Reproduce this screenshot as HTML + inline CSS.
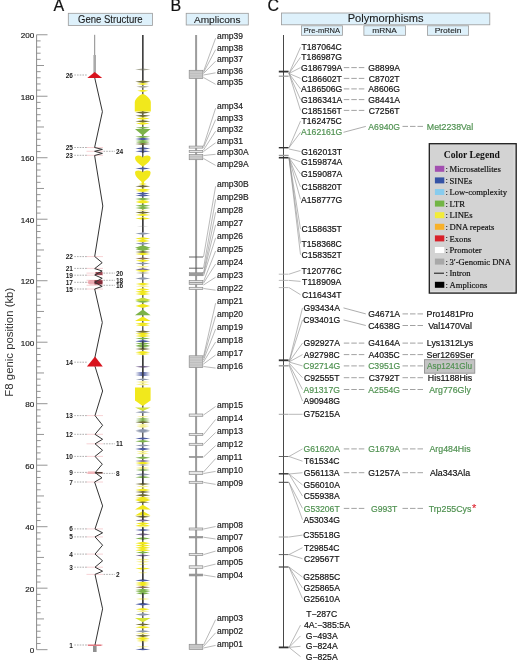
<!DOCTYPE html>
<html><head><meta charset="utf-8"><title>F8 gene structure, amplicons and polymorphisms</title><style>html,body{margin:0;padding:0;background:#fff;}svg{display:block;filter:blur(0.35px)}</style></head><body>
<svg width="520" height="662" viewBox="0 0 520 662">
<rect width="520" height="662" fill="#fff"/>
<text x="53.60" y="11.20" font-size="16" text-anchor="start" fill="#111" font-weight="normal" font-family='"Liberation Sans", sans-serif' stroke="#111" stroke-width="0.2">A</text>
<text x="170.40" y="11.20" font-size="16" text-anchor="start" fill="#111" font-weight="normal" font-family='"Liberation Sans", sans-serif' stroke="#111" stroke-width="0.2">B</text>
<text x="267.60" y="11.10" font-size="16" text-anchor="start" fill="#111" font-weight="normal" font-family='"Liberation Sans", sans-serif' stroke="#111" stroke-width="0.2">C</text>
<rect x="68.3" y="13.3" width="84.10000000000001" height="12.099999999999998" fill="#def1fb" stroke="#9a9a9a" stroke-width="0.8"/>
<text x="110.35" y="22.70" font-size="10.0" text-anchor="middle" fill="#1a1a1a" font-weight="normal" font-family='"Liberation Sans", sans-serif' textLength="64.6" lengthAdjust="spacingAndGlyphs" stroke="#222" stroke-width="0.1">Gene Structure</text>
<rect x="186.2" y="13.3" width="62.10000000000002" height="11.7" fill="#def1fb" stroke="#9a9a9a" stroke-width="0.8"/>
<text x="217.25" y="22.60" font-size="9.9" text-anchor="middle" fill="#1a1a1a" font-weight="normal" font-family='"Liberation Sans", sans-serif' textLength="46.6" lengthAdjust="spacingAndGlyphs" stroke="#222" stroke-width="0.1">Amplicons</text>
<rect x="281.4" y="13.0" width="208.40000000000003" height="11.8" fill="#def1fb" stroke="#9a9a9a" stroke-width="0.8"/>
<text x="385.60" y="22.40" font-size="10.2" text-anchor="middle" fill="#1a1a1a" font-weight="normal" font-family='"Liberation Sans", sans-serif' textLength="75.8" lengthAdjust="spacingAndGlyphs" stroke="#222" stroke-width="0.1">Polymorphisms</text>
<rect x="301.4" y="25.8" width="41.0" height="9.499999999999996" fill="#def1fb" stroke="#9a9a9a" stroke-width="0.8"/>
<text x="321.90" y="33.40" font-size="8.0" text-anchor="middle" fill="#1a1a1a" font-weight="normal" font-family='"Liberation Sans", sans-serif' textLength="36.4" lengthAdjust="spacingAndGlyphs" stroke="#222" stroke-width="0.1">Pre-mRNA</text>
<rect x="363.9" y="25.8" width="41.5" height="9.499999999999996" fill="#def1fb" stroke="#9a9a9a" stroke-width="0.8"/>
<text x="384.65" y="33.40" font-size="8.0" text-anchor="middle" fill="#1a1a1a" font-weight="normal" font-family='"Liberation Sans", sans-serif' textLength="24.6" lengthAdjust="spacingAndGlyphs" stroke="#222" stroke-width="0.1">mRNA</text>
<rect x="427.5" y="25.8" width="41.10000000000002" height="9.499999999999996" fill="#def1fb" stroke="#9a9a9a" stroke-width="0.8"/>
<text x="448.05" y="33.40" font-size="8.0" text-anchor="middle" fill="#1a1a1a" font-weight="normal" font-family='"Liberation Sans", sans-serif' textLength="26.8" lengthAdjust="spacingAndGlyphs" stroke="#222" stroke-width="0.1">Protein</text>
<line x1="36.6" y1="34.75" x2="36.6" y2="649.6700000000001" stroke="#8a8a8a" stroke-width="1"/>
<line x1="36.6" y1="649.67" x2="47.5" y2="649.67" stroke="#8a8a8a" stroke-width="0.9"/>
<text x="34.30" y="653.17" font-size="8.1" text-anchor="end" fill="#222" font-weight="normal" font-family='"Liberation Sans", sans-serif' stroke="#222" stroke-width="0.18" >0</text>
<line x1="36.6" y1="643.52" x2="40.6" y2="643.52" stroke="#8a8a8a" stroke-width="0.9"/>
<line x1="36.6" y1="637.37" x2="40.6" y2="637.37" stroke="#8a8a8a" stroke-width="0.9"/>
<line x1="36.6" y1="631.22" x2="40.6" y2="631.22" stroke="#8a8a8a" stroke-width="0.9"/>
<line x1="36.6" y1="625.07" x2="40.6" y2="625.07" stroke="#8a8a8a" stroke-width="0.9"/>
<line x1="36.6" y1="618.92" x2="44.0" y2="618.92" stroke="#8a8a8a" stroke-width="0.9"/>
<line x1="36.6" y1="612.77" x2="40.6" y2="612.77" stroke="#8a8a8a" stroke-width="0.9"/>
<line x1="36.6" y1="606.63" x2="40.6" y2="606.63" stroke="#8a8a8a" stroke-width="0.9"/>
<line x1="36.6" y1="600.48" x2="40.6" y2="600.48" stroke="#8a8a8a" stroke-width="0.9"/>
<line x1="36.6" y1="594.33" x2="40.6" y2="594.33" stroke="#8a8a8a" stroke-width="0.9"/>
<line x1="36.6" y1="588.18" x2="47.5" y2="588.18" stroke="#8a8a8a" stroke-width="0.9"/>
<text x="34.30" y="591.68" font-size="8.1" text-anchor="end" fill="#222" font-weight="normal" font-family='"Liberation Sans", sans-serif' stroke="#222" stroke-width="0.18" >20</text>
<line x1="36.6" y1="582.03" x2="40.6" y2="582.03" stroke="#8a8a8a" stroke-width="0.9"/>
<line x1="36.6" y1="575.88" x2="40.6" y2="575.88" stroke="#8a8a8a" stroke-width="0.9"/>
<line x1="36.6" y1="569.73" x2="40.6" y2="569.73" stroke="#8a8a8a" stroke-width="0.9"/>
<line x1="36.6" y1="563.58" x2="40.6" y2="563.58" stroke="#8a8a8a" stroke-width="0.9"/>
<line x1="36.6" y1="557.43" x2="44.0" y2="557.43" stroke="#8a8a8a" stroke-width="0.9"/>
<line x1="36.6" y1="551.28" x2="40.6" y2="551.28" stroke="#8a8a8a" stroke-width="0.9"/>
<line x1="36.6" y1="545.13" x2="40.6" y2="545.13" stroke="#8a8a8a" stroke-width="0.9"/>
<line x1="36.6" y1="538.98" x2="40.6" y2="538.98" stroke="#8a8a8a" stroke-width="0.9"/>
<line x1="36.6" y1="532.84" x2="40.6" y2="532.84" stroke="#8a8a8a" stroke-width="0.9"/>
<line x1="36.6" y1="526.69" x2="47.5" y2="526.69" stroke="#8a8a8a" stroke-width="0.9"/>
<text x="34.30" y="530.19" font-size="8.1" text-anchor="end" fill="#222" font-weight="normal" font-family='"Liberation Sans", sans-serif' stroke="#222" stroke-width="0.18" >40</text>
<line x1="36.6" y1="520.54" x2="40.6" y2="520.54" stroke="#8a8a8a" stroke-width="0.9"/>
<line x1="36.6" y1="514.39" x2="40.6" y2="514.39" stroke="#8a8a8a" stroke-width="0.9"/>
<line x1="36.6" y1="508.24" x2="40.6" y2="508.24" stroke="#8a8a8a" stroke-width="0.9"/>
<line x1="36.6" y1="502.09" x2="40.6" y2="502.09" stroke="#8a8a8a" stroke-width="0.9"/>
<line x1="36.6" y1="495.94" x2="44.0" y2="495.94" stroke="#8a8a8a" stroke-width="0.9"/>
<line x1="36.6" y1="489.79" x2="40.6" y2="489.79" stroke="#8a8a8a" stroke-width="0.9"/>
<line x1="36.6" y1="483.64" x2="40.6" y2="483.64" stroke="#8a8a8a" stroke-width="0.9"/>
<line x1="36.6" y1="477.49" x2="40.6" y2="477.49" stroke="#8a8a8a" stroke-width="0.9"/>
<line x1="36.6" y1="471.34" x2="40.6" y2="471.34" stroke="#8a8a8a" stroke-width="0.9"/>
<line x1="36.6" y1="465.19" x2="47.5" y2="465.19" stroke="#8a8a8a" stroke-width="0.9"/>
<text x="34.30" y="468.69" font-size="8.1" text-anchor="end" fill="#222" font-weight="normal" font-family='"Liberation Sans", sans-serif' stroke="#222" stroke-width="0.18" >60</text>
<line x1="36.6" y1="459.04" x2="40.6" y2="459.04" stroke="#8a8a8a" stroke-width="0.9"/>
<line x1="36.6" y1="452.90" x2="40.6" y2="452.90" stroke="#8a8a8a" stroke-width="0.9"/>
<line x1="36.6" y1="446.75" x2="40.6" y2="446.75" stroke="#8a8a8a" stroke-width="0.9"/>
<line x1="36.6" y1="440.60" x2="40.6" y2="440.60" stroke="#8a8a8a" stroke-width="0.9"/>
<line x1="36.6" y1="434.45" x2="44.0" y2="434.45" stroke="#8a8a8a" stroke-width="0.9"/>
<line x1="36.6" y1="428.30" x2="40.6" y2="428.30" stroke="#8a8a8a" stroke-width="0.9"/>
<line x1="36.6" y1="422.15" x2="40.6" y2="422.15" stroke="#8a8a8a" stroke-width="0.9"/>
<line x1="36.6" y1="416.00" x2="40.6" y2="416.00" stroke="#8a8a8a" stroke-width="0.9"/>
<line x1="36.6" y1="409.85" x2="40.6" y2="409.85" stroke="#8a8a8a" stroke-width="0.9"/>
<line x1="36.6" y1="403.70" x2="47.5" y2="403.70" stroke="#8a8a8a" stroke-width="0.9"/>
<text x="34.30" y="407.20" font-size="8.1" text-anchor="end" fill="#222" font-weight="normal" font-family='"Liberation Sans", sans-serif' stroke="#222" stroke-width="0.18" >80</text>
<line x1="36.6" y1="397.55" x2="40.6" y2="397.55" stroke="#8a8a8a" stroke-width="0.9"/>
<line x1="36.6" y1="391.40" x2="40.6" y2="391.40" stroke="#8a8a8a" stroke-width="0.9"/>
<line x1="36.6" y1="385.25" x2="40.6" y2="385.25" stroke="#8a8a8a" stroke-width="0.9"/>
<line x1="36.6" y1="379.11" x2="40.6" y2="379.11" stroke="#8a8a8a" stroke-width="0.9"/>
<line x1="36.6" y1="372.96" x2="44.0" y2="372.96" stroke="#8a8a8a" stroke-width="0.9"/>
<line x1="36.6" y1="366.81" x2="40.6" y2="366.81" stroke="#8a8a8a" stroke-width="0.9"/>
<line x1="36.6" y1="360.66" x2="40.6" y2="360.66" stroke="#8a8a8a" stroke-width="0.9"/>
<line x1="36.6" y1="354.51" x2="40.6" y2="354.51" stroke="#8a8a8a" stroke-width="0.9"/>
<line x1="36.6" y1="348.36" x2="40.6" y2="348.36" stroke="#8a8a8a" stroke-width="0.9"/>
<line x1="36.6" y1="342.21" x2="47.5" y2="342.21" stroke="#8a8a8a" stroke-width="0.9"/>
<text x="34.30" y="345.71" font-size="8.1" text-anchor="end" fill="#222" font-weight="normal" font-family='"Liberation Sans", sans-serif' stroke="#222" stroke-width="0.18" >100</text>
<line x1="36.6" y1="336.06" x2="40.6" y2="336.06" stroke="#8a8a8a" stroke-width="0.9"/>
<line x1="36.6" y1="329.91" x2="40.6" y2="329.91" stroke="#8a8a8a" stroke-width="0.9"/>
<line x1="36.6" y1="323.76" x2="40.6" y2="323.76" stroke="#8a8a8a" stroke-width="0.9"/>
<line x1="36.6" y1="317.61" x2="40.6" y2="317.61" stroke="#8a8a8a" stroke-width="0.9"/>
<line x1="36.6" y1="311.46" x2="44.0" y2="311.46" stroke="#8a8a8a" stroke-width="0.9"/>
<line x1="36.6" y1="305.31" x2="40.6" y2="305.31" stroke="#8a8a8a" stroke-width="0.9"/>
<line x1="36.6" y1="299.17" x2="40.6" y2="299.17" stroke="#8a8a8a" stroke-width="0.9"/>
<line x1="36.6" y1="293.02" x2="40.6" y2="293.02" stroke="#8a8a8a" stroke-width="0.9"/>
<line x1="36.6" y1="286.87" x2="40.6" y2="286.87" stroke="#8a8a8a" stroke-width="0.9"/>
<line x1="36.6" y1="280.72" x2="47.5" y2="280.72" stroke="#8a8a8a" stroke-width="0.9"/>
<text x="34.30" y="284.22" font-size="8.1" text-anchor="end" fill="#222" font-weight="normal" font-family='"Liberation Sans", sans-serif' stroke="#222" stroke-width="0.18" >120</text>
<line x1="36.6" y1="274.57" x2="40.6" y2="274.57" stroke="#8a8a8a" stroke-width="0.9"/>
<line x1="36.6" y1="268.42" x2="40.6" y2="268.42" stroke="#8a8a8a" stroke-width="0.9"/>
<line x1="36.6" y1="262.27" x2="40.6" y2="262.27" stroke="#8a8a8a" stroke-width="0.9"/>
<line x1="36.6" y1="256.12" x2="40.6" y2="256.12" stroke="#8a8a8a" stroke-width="0.9"/>
<line x1="36.6" y1="249.97" x2="44.0" y2="249.97" stroke="#8a8a8a" stroke-width="0.9"/>
<line x1="36.6" y1="243.82" x2="40.6" y2="243.82" stroke="#8a8a8a" stroke-width="0.9"/>
<line x1="36.6" y1="237.67" x2="40.6" y2="237.67" stroke="#8a8a8a" stroke-width="0.9"/>
<line x1="36.6" y1="231.52" x2="40.6" y2="231.52" stroke="#8a8a8a" stroke-width="0.9"/>
<line x1="36.6" y1="225.38" x2="40.6" y2="225.38" stroke="#8a8a8a" stroke-width="0.9"/>
<line x1="36.6" y1="219.23" x2="47.5" y2="219.23" stroke="#8a8a8a" stroke-width="0.9"/>
<text x="34.30" y="222.73" font-size="8.1" text-anchor="end" fill="#222" font-weight="normal" font-family='"Liberation Sans", sans-serif' stroke="#222" stroke-width="0.18" >140</text>
<line x1="36.6" y1="213.08" x2="40.6" y2="213.08" stroke="#8a8a8a" stroke-width="0.9"/>
<line x1="36.6" y1="206.93" x2="40.6" y2="206.93" stroke="#8a8a8a" stroke-width="0.9"/>
<line x1="36.6" y1="200.78" x2="40.6" y2="200.78" stroke="#8a8a8a" stroke-width="0.9"/>
<line x1="36.6" y1="194.63" x2="40.6" y2="194.63" stroke="#8a8a8a" stroke-width="0.9"/>
<line x1="36.6" y1="188.48" x2="44.0" y2="188.48" stroke="#8a8a8a" stroke-width="0.9"/>
<line x1="36.6" y1="182.33" x2="40.6" y2="182.33" stroke="#8a8a8a" stroke-width="0.9"/>
<line x1="36.6" y1="176.18" x2="40.6" y2="176.18" stroke="#8a8a8a" stroke-width="0.9"/>
<line x1="36.6" y1="170.03" x2="40.6" y2="170.03" stroke="#8a8a8a" stroke-width="0.9"/>
<line x1="36.6" y1="163.88" x2="40.6" y2="163.88" stroke="#8a8a8a" stroke-width="0.9"/>
<line x1="36.6" y1="157.73" x2="47.5" y2="157.73" stroke="#8a8a8a" stroke-width="0.9"/>
<text x="34.30" y="161.23" font-size="8.1" text-anchor="end" fill="#222" font-weight="normal" font-family='"Liberation Sans", sans-serif' stroke="#222" stroke-width="0.18" >160</text>
<line x1="36.6" y1="151.58" x2="40.6" y2="151.58" stroke="#8a8a8a" stroke-width="0.9"/>
<line x1="36.6" y1="145.44" x2="40.6" y2="145.44" stroke="#8a8a8a" stroke-width="0.9"/>
<line x1="36.6" y1="139.29" x2="40.6" y2="139.29" stroke="#8a8a8a" stroke-width="0.9"/>
<line x1="36.6" y1="133.14" x2="40.6" y2="133.14" stroke="#8a8a8a" stroke-width="0.9"/>
<line x1="36.6" y1="126.99" x2="44.0" y2="126.99" stroke="#8a8a8a" stroke-width="0.9"/>
<line x1="36.6" y1="120.84" x2="40.6" y2="120.84" stroke="#8a8a8a" stroke-width="0.9"/>
<line x1="36.6" y1="114.69" x2="40.6" y2="114.69" stroke="#8a8a8a" stroke-width="0.9"/>
<line x1="36.6" y1="108.54" x2="40.6" y2="108.54" stroke="#8a8a8a" stroke-width="0.9"/>
<line x1="36.6" y1="102.39" x2="40.6" y2="102.39" stroke="#8a8a8a" stroke-width="0.9"/>
<line x1="36.6" y1="96.24" x2="47.5" y2="96.24" stroke="#8a8a8a" stroke-width="0.9"/>
<text x="34.30" y="99.74" font-size="8.1" text-anchor="end" fill="#222" font-weight="normal" font-family='"Liberation Sans", sans-serif' stroke="#222" stroke-width="0.18" >180</text>
<line x1="36.6" y1="90.09" x2="40.6" y2="90.09" stroke="#8a8a8a" stroke-width="0.9"/>
<line x1="36.6" y1="83.94" x2="40.6" y2="83.94" stroke="#8a8a8a" stroke-width="0.9"/>
<line x1="36.6" y1="77.79" x2="40.6" y2="77.79" stroke="#8a8a8a" stroke-width="0.9"/>
<line x1="36.6" y1="71.65" x2="40.6" y2="71.65" stroke="#8a8a8a" stroke-width="0.9"/>
<line x1="36.6" y1="65.50" x2="44.0" y2="65.50" stroke="#8a8a8a" stroke-width="0.9"/>
<line x1="36.6" y1="59.35" x2="40.6" y2="59.35" stroke="#8a8a8a" stroke-width="0.9"/>
<line x1="36.6" y1="53.20" x2="40.6" y2="53.20" stroke="#8a8a8a" stroke-width="0.9"/>
<line x1="36.6" y1="47.05" x2="40.6" y2="47.05" stroke="#8a8a8a" stroke-width="0.9"/>
<line x1="36.6" y1="40.90" x2="40.6" y2="40.90" stroke="#8a8a8a" stroke-width="0.9"/>
<line x1="36.6" y1="34.75" x2="47.5" y2="34.75" stroke="#8a8a8a" stroke-width="0.9"/>
<text x="34.30" y="38.25" font-size="8.1" text-anchor="end" fill="#222" font-weight="normal" font-family='"Liberation Sans", sans-serif' stroke="#222" stroke-width="0.18" >200</text>
<text transform="translate(13.4,342.2) rotate(-90)" font-size="11.4" text-anchor="middle" fill="#333" font-family='"Liberation Sans", sans-serif'>F8 genic position (kb)</text>
<line x1="94.7" y1="34.8" x2="94.7" y2="56" stroke="#8a8a8a" stroke-width="1"/>
<line x1="94.7" y1="55" x2="94.7" y2="73" stroke="#aaaaaa" stroke-width="2.6"/>
<line x1="86.5" y1="147.5" x2="103" y2="147.5" stroke="#f5c6ca" stroke-width="0.8"/>
<line x1="86.5" y1="155.3" x2="103" y2="155.3" stroke="#f5c6ca" stroke-width="0.8"/>
<line x1="86.5" y1="256.6" x2="103" y2="256.6" stroke="#f5c6ca" stroke-width="0.8"/>
<line x1="86.5" y1="268.4" x2="103" y2="268.4" stroke="#f5c6ca" stroke-width="0.8"/>
<line x1="86.5" y1="275.2" x2="103" y2="275.2" stroke="#f5c6ca" stroke-width="0.8"/>
<line x1="86.5" y1="282.3" x2="103" y2="282.3" stroke="#f5c6ca" stroke-width="0.8"/>
<line x1="86.5" y1="289.0" x2="103" y2="289.0" stroke="#f5c6ca" stroke-width="0.8"/>
<line x1="86.5" y1="415.6" x2="103" y2="415.6" stroke="#f5c6ca" stroke-width="0.8"/>
<line x1="86.5" y1="434.3" x2="103" y2="434.3" stroke="#f5c6ca" stroke-width="0.8"/>
<line x1="86.5" y1="456.4" x2="103" y2="456.4" stroke="#f5c6ca" stroke-width="0.8"/>
<line x1="86.5" y1="472.4" x2="103" y2="472.4" stroke="#f5c6ca" stroke-width="0.8"/>
<line x1="86.5" y1="482.0" x2="103" y2="482.0" stroke="#f5c6ca" stroke-width="0.8"/>
<line x1="86.5" y1="528.9" x2="103" y2="528.9" stroke="#f5c6ca" stroke-width="0.8"/>
<line x1="86.5" y1="536.9" x2="103" y2="536.9" stroke="#f5c6ca" stroke-width="0.8"/>
<line x1="86.5" y1="554.1" x2="103" y2="554.1" stroke="#f5c6ca" stroke-width="0.8"/>
<line x1="86.5" y1="567.2" x2="103" y2="567.2" stroke="#f5c6ca" stroke-width="0.8"/>
<line x1="86.5" y1="645.0" x2="103" y2="645.0" stroke="#f5c6ca" stroke-width="0.8"/>
<line x1="86.5" y1="151.3" x2="103" y2="151.3" stroke="#f5c6ca" stroke-width="0.8"/>
<line x1="86.5" y1="273.1" x2="103" y2="273.1" stroke="#f5c6ca" stroke-width="0.8"/>
<line x1="86.5" y1="280.3" x2="103" y2="280.3" stroke="#f5c6ca" stroke-width="0.8"/>
<line x1="86.5" y1="285.3" x2="103" y2="285.3" stroke="#f5c6ca" stroke-width="0.8"/>
<line x1="86.5" y1="443.8" x2="103" y2="443.8" stroke="#f5c6ca" stroke-width="0.8"/>
<line x1="86.5" y1="473.4" x2="103" y2="473.4" stroke="#f5c6ca" stroke-width="0.8"/>
<line x1="86.5" y1="574.4" x2="103" y2="574.4" stroke="#f5c6ca" stroke-width="0.8"/>
<rect x="95.5" y="272" width="7" height="3" fill="#8a2a38" opacity="0.85"/>
<rect x="88" y="280" width="14.5" height="4.6" rx="2" fill="#e79aa3" opacity="0.8"/>
<rect x="94.5" y="280.2" width="8" height="4.2" fill="#7a1f2c" opacity="0.9"/>
<line x1="95" y1="472.8" x2="102.5" y2="472.8" stroke="#2a1a10" stroke-width="1.3"/>
<rect x="88" y="471.4" width="7" height="2.6" fill="#f0b0b5" opacity="0.8"/>
<path d="M94.7,77.7 L102.4,111.7 L94.6,147.5 L102.4,149.4 L94.6,151.3 L102.4,153.4 L94.6,155.5 L102.8,206 L94.7,256.5 L102.2,262.7 L94.7,268.6 L102.2,271 L94.7,275 L102.2,278.3 L94.7,282.2 L102.2,286.4 L94.7,289 L102.3,322.5 L95,357 L95,366.3 L102.6,391 L95,415.6 L102.6,425.3 L95,434.3 L102.6,439.3 L95,443.8 L102.6,450.3 L95,456.4 L102.3,464.2 L95.2,472.6 L102,477.8 L94.6,482 L102.6,505.9 L95,528.9 L102.6,532.8 L95,536.9 L102.6,545.2 L95,554.1 L102.6,560.8 L95,567.2 L102.6,571.2 L95,574.4 L102.6,608.8 L95,645" fill="none" stroke="#333" stroke-width="1.0" stroke-linejoin="miter"/>
<polygon points="94.7,72 102.2,77.9 87.3,77.9" fill="#d8141e"/>
<polygon points="95,356.5 102.8,366.4 86.9,366.4" fill="#d8141e"/>
<rect x="93" y="646.5" width="3.6" height="1" fill="#222"/>
<rect x="93" y="648.5" width="3.6" height="1" fill="#222"/>
<rect x="93" y="650.5" width="3.6" height="1" fill="#222"/>
<line x1="88" y1="645.2" x2="101.5" y2="645.2" stroke="#d23a44" stroke-width="0.9"/>
<text x="72.90" y="77.50" font-size="6.5" text-anchor="end" fill="#222" font-weight="bold" font-family='"Liberation Sans", sans-serif' >26</text>
<line x1="74.3" y1="75.0" x2="87" y2="75.0" stroke="#8a8a8a" stroke-width="0.7" stroke-dasharray="1.6,1.1"/>
<text x="72.90" y="150.00" font-size="6.5" text-anchor="end" fill="#222" font-weight="bold" font-family='"Liberation Sans", sans-serif' >25</text>
<line x1="74.3" y1="147.5" x2="87" y2="147.5" stroke="#8a8a8a" stroke-width="0.7" stroke-dasharray="1.6,1.1"/>
<text x="72.90" y="157.80" font-size="6.5" text-anchor="end" fill="#222" font-weight="bold" font-family='"Liberation Sans", sans-serif' >23</text>
<line x1="74.3" y1="155.3" x2="87" y2="155.3" stroke="#8a8a8a" stroke-width="0.7" stroke-dasharray="1.6,1.1"/>
<text x="72.90" y="259.10" font-size="6.5" text-anchor="end" fill="#222" font-weight="bold" font-family='"Liberation Sans", sans-serif' >22</text>
<line x1="74.3" y1="256.6" x2="87" y2="256.6" stroke="#8a8a8a" stroke-width="0.7" stroke-dasharray="1.6,1.1"/>
<text x="72.90" y="270.90" font-size="6.5" text-anchor="end" fill="#222" font-weight="bold" font-family='"Liberation Sans", sans-serif' >21</text>
<line x1="74.3" y1="268.4" x2="87" y2="268.4" stroke="#8a8a8a" stroke-width="0.7" stroke-dasharray="1.6,1.1"/>
<text x="72.90" y="277.70" font-size="6.5" text-anchor="end" fill="#222" font-weight="bold" font-family='"Liberation Sans", sans-serif' >19</text>
<line x1="74.3" y1="275.2" x2="87" y2="275.2" stroke="#8a8a8a" stroke-width="0.7" stroke-dasharray="1.6,1.1"/>
<text x="72.90" y="284.80" font-size="6.5" text-anchor="end" fill="#222" font-weight="bold" font-family='"Liberation Sans", sans-serif' >17</text>
<line x1="74.3" y1="282.3" x2="87" y2="282.3" stroke="#8a8a8a" stroke-width="0.7" stroke-dasharray="1.6,1.1"/>
<text x="72.90" y="291.50" font-size="6.5" text-anchor="end" fill="#222" font-weight="bold" font-family='"Liberation Sans", sans-serif' >15</text>
<line x1="74.3" y1="289.0" x2="87" y2="289.0" stroke="#8a8a8a" stroke-width="0.7" stroke-dasharray="1.6,1.1"/>
<text x="72.90" y="364.70" font-size="6.5" text-anchor="end" fill="#222" font-weight="bold" font-family='"Liberation Sans", sans-serif' >14</text>
<line x1="74.3" y1="362.2" x2="87" y2="362.2" stroke="#8a8a8a" stroke-width="0.7" stroke-dasharray="1.6,1.1"/>
<text x="72.90" y="418.10" font-size="6.5" text-anchor="end" fill="#222" font-weight="bold" font-family='"Liberation Sans", sans-serif' >13</text>
<line x1="74.3" y1="415.6" x2="87" y2="415.6" stroke="#8a8a8a" stroke-width="0.7" stroke-dasharray="1.6,1.1"/>
<text x="72.90" y="436.80" font-size="6.5" text-anchor="end" fill="#222" font-weight="bold" font-family='"Liberation Sans", sans-serif' >12</text>
<line x1="74.3" y1="434.3" x2="87" y2="434.3" stroke="#8a8a8a" stroke-width="0.7" stroke-dasharray="1.6,1.1"/>
<text x="72.90" y="458.90" font-size="6.5" text-anchor="end" fill="#222" font-weight="bold" font-family='"Liberation Sans", sans-serif' >10</text>
<line x1="74.3" y1="456.4" x2="87" y2="456.4" stroke="#8a8a8a" stroke-width="0.7" stroke-dasharray="1.6,1.1"/>
<text x="72.90" y="474.90" font-size="6.5" text-anchor="end" fill="#222" font-weight="bold" font-family='"Liberation Sans", sans-serif' >9</text>
<line x1="74.3" y1="472.4" x2="87" y2="472.4" stroke="#8a8a8a" stroke-width="0.7" stroke-dasharray="1.6,1.1"/>
<text x="72.90" y="484.50" font-size="6.5" text-anchor="end" fill="#222" font-weight="bold" font-family='"Liberation Sans", sans-serif' >7</text>
<line x1="74.3" y1="482.0" x2="87" y2="482.0" stroke="#8a8a8a" stroke-width="0.7" stroke-dasharray="1.6,1.1"/>
<text x="72.90" y="531.40" font-size="6.5" text-anchor="end" fill="#222" font-weight="bold" font-family='"Liberation Sans", sans-serif' >6</text>
<line x1="74.3" y1="528.9" x2="87" y2="528.9" stroke="#8a8a8a" stroke-width="0.7" stroke-dasharray="1.6,1.1"/>
<text x="72.90" y="539.40" font-size="6.5" text-anchor="end" fill="#222" font-weight="bold" font-family='"Liberation Sans", sans-serif' >5</text>
<line x1="74.3" y1="536.9" x2="87" y2="536.9" stroke="#8a8a8a" stroke-width="0.7" stroke-dasharray="1.6,1.1"/>
<text x="72.90" y="556.60" font-size="6.5" text-anchor="end" fill="#222" font-weight="bold" font-family='"Liberation Sans", sans-serif' >4</text>
<line x1="74.3" y1="554.1" x2="87" y2="554.1" stroke="#8a8a8a" stroke-width="0.7" stroke-dasharray="1.6,1.1"/>
<text x="72.90" y="569.70" font-size="6.5" text-anchor="end" fill="#222" font-weight="bold" font-family='"Liberation Sans", sans-serif' >3</text>
<line x1="74.3" y1="567.2" x2="87" y2="567.2" stroke="#8a8a8a" stroke-width="0.7" stroke-dasharray="1.6,1.1"/>
<text x="72.90" y="647.50" font-size="6.5" text-anchor="end" fill="#222" font-weight="bold" font-family='"Liberation Sans", sans-serif' >1</text>
<line x1="74.3" y1="645.0" x2="87" y2="645.0" stroke="#8a8a8a" stroke-width="0.7" stroke-dasharray="1.6,1.1"/>
<text x="115.90" y="153.80" font-size="6.5" text-anchor="start" fill="#222" font-weight="bold" font-family='"Liberation Sans", sans-serif' >24</text>
<line x1="103.5" y1="151.3" x2="115" y2="151.3" stroke="#8a8a8a" stroke-width="0.7" stroke-dasharray="1.6,1.1"/>
<text x="115.90" y="275.60" font-size="6.5" text-anchor="start" fill="#222" font-weight="bold" font-family='"Liberation Sans", sans-serif' >20</text>
<line x1="103.5" y1="273.1" x2="115" y2="273.1" stroke="#8a8a8a" stroke-width="0.7" stroke-dasharray="1.6,1.1"/>
<text x="115.90" y="282.80" font-size="6.5" text-anchor="start" fill="#222" font-weight="bold" font-family='"Liberation Sans", sans-serif' >18</text>
<line x1="103.5" y1="280.3" x2="115" y2="280.3" stroke="#8a8a8a" stroke-width="0.7" stroke-dasharray="1.6,1.1"/>
<text x="115.90" y="287.80" font-size="6.5" text-anchor="start" fill="#222" font-weight="bold" font-family='"Liberation Sans", sans-serif' >16</text>
<line x1="103.5" y1="285.3" x2="115" y2="285.3" stroke="#8a8a8a" stroke-width="0.7" stroke-dasharray="1.6,1.1"/>
<text x="115.90" y="446.30" font-size="6.5" text-anchor="start" fill="#222" font-weight="bold" font-family='"Liberation Sans", sans-serif' >11</text>
<line x1="103.5" y1="443.8" x2="115" y2="443.8" stroke="#8a8a8a" stroke-width="0.7" stroke-dasharray="1.6,1.1"/>
<text x="115.90" y="475.90" font-size="6.5" text-anchor="start" fill="#222" font-weight="bold" font-family='"Liberation Sans", sans-serif' >8</text>
<line x1="103.5" y1="473.4" x2="115" y2="473.4" stroke="#8a8a8a" stroke-width="0.7" stroke-dasharray="1.6,1.1"/>
<text x="115.90" y="576.90" font-size="6.5" text-anchor="start" fill="#222" font-weight="bold" font-family='"Liberation Sans", sans-serif' >2</text>
<line x1="103.5" y1="574.4" x2="115" y2="574.4" stroke="#8a8a8a" stroke-width="0.7" stroke-dasharray="1.6,1.1"/>
<defs><filter id="bl" x="-20%" y="-2%" width="140%" height="104%"><feGaussianBlur stdDeviation="0.45"/></filter></defs>
<g filter="url(#bl)">
<line x1="142.8" y1="35" x2="142.8" y2="649.5" stroke="#3a3a3a" stroke-width="1.2"/>
<path d="M139.5,95.5 Q142.8,92.5 146.1,95.5 Q150.6,99 150.8,102 L150.8,111.6 L134.8,111.6 L134.8,102 Q135,99 139.5,95.5 Z" fill="#f1e81c"/>
<path d="M135,129 L150.6,129 L142.8,135.6 Z" fill="#7cb24a"/>
<path d="M135,158.3 Q135,155.6 138.5,155.6 Q141.5,155.6 142.8,157.6 Q144.1,155.6 147.1,155.6 Q150.6,155.6 150.6,158.3 Q150.6,161.5 142.8,166.8 Q135,161.5 135,158.3 Z" fill="#f1e81c"/>
<path d="M135,172.8 Q135,170.6 138.5,170.6 Q141.5,170.6 142.8,172.2 Q144.1,170.6 147.1,170.6 Q150.6,170.6 150.6,172.8 Q150.6,177 144.3,181.4 L143.6,183.6 L142,183.6 L141.3,181.4 Q135,177 135,172.8 Z" fill="#f1e81c"/>
<path d="M135,247.7 L142.8,245.2 L150.6,247.7 L142.8,250.2 Z" fill="#7cb24a"/>
<path d="M135.5,249.3 L142.8,247.6 L150.1,249.3 L142.8,251 Z" fill="#7cb24a"/>
<path d="M135,300 L142.8,297.6 L150.6,300 L142.8,302.4 Z" fill="#c6dc3a"/>
<path d="M135.5,305.9 L142.8,303.8 L150.1,305.9 L142.8,308 Z" fill="#f1e81c"/>
<path d="M142.8,309.6 L150.6,315.2 L135,315.2 Z" fill="#7cb24a"/>
<path d="M142.8,316.4 L150.6,321 L135,321 Z" fill="#f1e81c"/>
<path d="M135,387.4 L150.6,387.4 L150.6,400.4 L142.8,406 L135,400.4 Z" fill="#f1e81c"/>
<path d="M135,407.6 L150.6,407.6 L142.8,411 Z" fill="#d2e03a"/>
<path d="M135,500 L142.8,497.4 L150.6,500 L142.8,502.6 Z" fill="#f1e81c"/>
<path d="M142.8,504.8 L150.6,509.6 L135,509.6 Z" fill="#f1e81c"/>
<path d="M142.8,511 L150.6,515.6 L135,515.6 Z" fill="#f1e81c"/>
<path d="M135,618 L150.6,618 L142.8,622.2 Z" fill="#d6e436"/>
<path d="M135.10,69.50 L142.80,68.56 L150.50,69.50 L142.80,70.44 Z" fill="#a7a796"/>
<path d="M135.30,81.80 L142.80,80.58 L150.30,81.80 L142.80,83.02 Z" fill="#6f6a34"/>
<path d="M136.80,84.00 L142.80,83.06 L148.80,84.00 L142.80,84.94 Z" fill="#f1e81c"/>
<path d="M136.30,86.80 L142.80,85.79 L149.30,86.80 L142.80,87.81 Z" fill="#a7a796"/>
<path d="M137.30,90.80 L142.80,89.72 L148.30,90.80 L142.80,91.88 Z" fill="#f1e81c"/>
<path d="M135.30,112.60 L142.80,111.52 L150.30,112.60 L142.80,113.68 Z" fill="#6f6a34"/>
<path d="M135.30,115.80 L142.80,114.72 L150.30,115.80 L142.80,116.88 Z" fill="#6f6a34"/>
<path d="M135.80,118.50 L142.80,117.15 L149.80,118.50 L142.80,119.85 Z" fill="#f1e81c"/>
<path d="M135.30,121.30 L142.80,120.22 L150.30,121.30 L142.80,122.38 Z" fill="#6f6a34"/>
<path d="M135.80,123.50 L142.80,122.15 L149.80,123.50 L142.80,124.85 Z" fill="#f1e81c"/>
<path d="M135.80,127.70 L142.80,126.69 L149.80,127.70 L142.80,128.71 Z" fill="#7cb24a"/>
<path d="M135.30,136.80 L142.80,135.72 L150.30,136.80 L142.80,137.88 Z" fill="#7cb24a"/>
<path d="M135.30,139.00 L142.80,137.78 L150.30,139.00 L142.80,140.22 Z" fill="#4b5aa2"/>
<path d="M135.30,141.00 L142.80,139.92 L150.30,141.00 L142.80,142.08 Z" fill="#7cb24a"/>
<path d="M135.80,142.30 L142.80,141.36 L149.80,142.30 L142.80,143.25 Z" fill="#7cb24a"/>
<path d="M135.30,144.00 L142.80,142.92 L150.30,144.00 L142.80,145.08 Z" fill="#6f6a34"/>
<path d="M135.30,148.50 L142.80,147.28 L150.30,148.50 L142.80,149.72 Z" fill="#4b5aa2"/>
<path d="M135.30,151.30 L142.80,150.22 L150.30,151.30 L142.80,152.38 Z" fill="#4b5aa2"/>
<path d="M135.30,168.50 L142.80,167.42 L150.30,168.50 L142.80,169.58 Z" fill="#4b5aa2"/>
<path d="M138.80,184.00 L142.80,183.06 L146.80,184.00 L142.80,184.94 Z" fill="#f1e81c"/>
<path d="M135.30,186.30 L142.80,185.15 L150.30,186.30 L142.80,187.45 Z" fill="#6f6a34"/>
<path d="M135.30,189.80 L142.80,188.45 L150.30,189.80 L142.80,191.15 Z" fill="#f1e81c"/>
<path d="M135.80,191.00 L142.80,189.99 L149.80,191.00 L142.80,192.01 Z" fill="#f1e81c"/>
<path d="M135.80,193.60 L142.80,192.52 L149.80,193.60 L142.80,194.68 Z" fill="#4b5aa2"/>
<path d="M135.30,195.40 L142.80,194.39 L150.30,195.40 L142.80,196.41 Z" fill="#4b5aa2"/>
<path d="M135.30,199.00 L142.80,197.78 L150.30,199.00 L142.80,200.22 Z" fill="#7cb24a"/>
<path d="M135.80,201.30 L142.80,200.09 L149.80,201.30 L142.80,202.52 Z" fill="#f1e81c"/>
<path d="M135.80,202.60 L142.80,201.59 L149.80,202.60 L142.80,203.61 Z" fill="#f1e81c"/>
<path d="M135.30,205.80 L142.80,204.59 L150.30,205.80 L142.80,207.02 Z" fill="#7cb24a"/>
<path d="M135.30,208.00 L142.80,206.78 L150.30,208.00 L142.80,209.22 Z" fill="#7cb24a"/>
<path d="M136.80,210.30 L142.80,209.49 L148.80,210.30 L142.80,211.11 Z" fill="#f6f08a"/>
<path d="M135.30,212.60 L142.80,211.52 L150.30,212.60 L142.80,213.68 Z" fill="#6f6a34"/>
<path d="M135.30,214.90 L142.80,213.69 L150.30,214.90 L142.80,216.12 Z" fill="#f1e81c"/>
<path d="M135.30,218.50 L142.80,217.28 L150.30,218.50 L142.80,219.72 Z" fill="#f1e81c"/>
<path d="M136.80,226.20 L142.80,225.66 L148.80,226.20 L142.80,226.74 Z" fill="#cccccc"/>
<path d="M135.30,233.60 L142.80,232.38 L150.30,233.60 L142.80,234.81 Z" fill="#8c96ac"/>
<path d="M135.30,238.60 L142.80,237.25 L150.30,238.60 L142.80,239.95 Z" fill="#f1e81c"/>
<path d="M135.80,240.90 L142.80,239.55 L149.80,240.90 L142.80,242.25 Z" fill="#f1e81c"/>
<path d="M135.30,243.60 L142.80,242.52 L150.30,243.60 L142.80,244.68 Z" fill="#8c96ac"/>
<path d="M135.30,252.00 L142.80,250.92 L150.30,252.00 L142.80,253.08 Z" fill="#6f6a34"/>
<path d="M135.30,254.00 L142.80,252.65 L150.30,254.00 L142.80,255.35 Z" fill="#f1e81c"/>
<path d="M135.30,258.50 L142.80,257.42 L150.30,258.50 L142.80,259.58 Z" fill="#8a6a52"/>
<path d="M135.80,260.80 L142.80,259.59 L149.80,260.80 L142.80,262.01 Z" fill="#f1e81c"/>
<path d="M135.30,263.50 L142.80,262.42 L150.30,263.50 L142.80,264.58 Z" fill="#8c96ac"/>
<path d="M136.30,266.70 L142.80,265.69 L149.30,266.70 L142.80,267.71 Z" fill="#f6f08a"/>
<path d="M135.30,269.40 L142.80,268.19 L150.30,269.40 L142.80,270.61 Z" fill="#7b6a94"/>
<path d="M135.30,270.80 L142.80,269.72 L150.30,270.80 L142.80,271.88 Z" fill="#f1e81c"/>
<path d="M135.80,273.00 L142.80,272.19 L149.80,273.00 L142.80,273.81 Z" fill="#a7a796"/>
<path d="M135.30,278.50 L142.80,277.29 L150.30,278.50 L142.80,279.71 Z" fill="#8c96ac"/>
<path d="M135.80,284.00 L142.80,282.65 L149.80,284.00 L142.80,285.35 Z" fill="#f1e81c"/>
<path d="M135.80,286.20 L142.80,285.12 L149.80,286.20 L142.80,287.28 Z" fill="#f6f08a"/>
<path d="M135.80,289.50 L142.80,288.15 L149.80,289.50 L142.80,290.85 Z" fill="#f1e81c"/>
<path d="M135.30,291.80 L142.80,290.45 L150.30,291.80 L142.80,293.15 Z" fill="#f1e81c"/>
<path d="M135.30,294.00 L142.80,292.79 L150.30,294.00 L142.80,295.21 Z" fill="#f1e81c"/>
<path d="M135.30,301.80 L142.80,300.86 L150.30,301.80 L142.80,302.75 Z" fill="#7cb24a"/>
<path d="M135.30,323.80 L142.80,322.45 L150.30,323.80 L142.80,325.15 Z" fill="#f1e81c"/>
<path d="M135.80,325.30 L142.80,324.29 L149.80,325.30 L142.80,326.31 Z" fill="#f1e81c"/>
<path d="M135.30,331.70 L142.80,330.49 L150.30,331.70 L142.80,332.91 Z" fill="#6f6a34"/>
<path d="M135.30,333.80 L142.80,332.45 L150.30,333.80 L142.80,335.15 Z" fill="#f1e81c"/>
<path d="M135.30,336.00 L142.80,334.65 L150.30,336.00 L142.80,337.35 Z" fill="#f1e81c"/>
<path d="M135.30,338.50 L142.80,337.42 L150.30,338.50 L142.80,339.58 Z" fill="#7cb24a"/>
<path d="M135.30,341.30 L142.80,340.09 L150.30,341.30 L142.80,342.51 Z" fill="#4b5aa2"/>
<path d="M135.30,343.60 L142.80,342.39 L150.30,343.60 L142.80,344.81 Z" fill="#7cb24a"/>
<path d="M135.30,345.50 L142.80,344.29 L150.30,345.50 L142.80,346.71 Z" fill="#7cb24a"/>
<path d="M135.80,346.80 L142.80,345.86 L149.80,346.80 L142.80,347.75 Z" fill="#7cb24a"/>
<path d="M135.30,349.00 L142.80,347.92 L150.30,349.00 L142.80,350.08 Z" fill="#6f6a34"/>
<path d="M135.30,352.20 L142.80,350.99 L150.30,352.20 L142.80,353.41 Z" fill="#f1e81c"/>
<path d="M135.80,354.00 L142.80,352.99 L149.80,354.00 L142.80,355.01 Z" fill="#f1e81c"/>
<path d="M135.30,366.70 L142.80,365.69 L150.30,366.70 L142.80,367.71 Z" fill="#7b6a94"/>
<path d="M135.30,373.00 L142.80,371.92 L150.30,373.00 L142.80,374.08 Z" fill="#4b5aa2"/>
<path d="M135.30,375.00 L142.80,373.92 L150.30,375.00 L142.80,376.08 Z" fill="#4b5aa2"/>
<path d="M135.80,379.40 L142.80,378.59 L149.80,379.40 L142.80,380.21 Z" fill="#8c96ac"/>
<path d="M135.80,382.00 L142.80,380.92 L149.80,382.00 L142.80,383.08 Z" fill="#f6f08a"/>
<path d="M135.80,384.40 L142.80,383.32 L149.80,384.40 L142.80,385.48 Z" fill="#f6f08a"/>
<path d="M135.30,412.20 L142.80,411.12 L150.30,412.20 L142.80,413.28 Z" fill="#8c96ac"/>
<path d="M136.80,416.70 L142.80,415.89 L148.80,416.70 L142.80,417.51 Z" fill="#f6f08a"/>
<path d="M135.80,419.00 L142.80,417.99 L149.80,419.00 L142.80,420.01 Z" fill="#7cb24a"/>
<path d="M135.30,421.00 L142.80,419.92 L150.30,421.00 L142.80,422.08 Z" fill="#7cb24a"/>
<path d="M135.30,422.20 L142.80,421.25 L150.30,422.20 L142.80,423.14 Z" fill="#6f6a34"/>
<path d="M136.30,425.00 L142.80,424.06 L149.30,425.00 L142.80,425.94 Z" fill="#f6f08a"/>
<path d="M136.30,426.70 L142.80,425.75 L149.30,426.70 L142.80,427.64 Z" fill="#f6f08a"/>
<path d="M135.30,430.30 L142.80,429.09 L150.30,430.30 L142.80,431.51 Z" fill="#8c96ac"/>
<path d="M135.80,431.70 L142.80,430.75 L149.80,431.70 L142.80,432.64 Z" fill="#8c96ac"/>
<path d="M135.30,438.50 L142.80,437.42 L150.30,438.50 L142.80,439.58 Z" fill="#4b5aa2"/>
<path d="M135.30,441.30 L142.80,440.09 L150.30,441.30 L142.80,442.51 Z" fill="#7cb24a"/>
<path d="M135.30,445.40 L142.80,444.39 L150.30,445.40 L142.80,446.41 Z" fill="#8c96ac"/>
<path d="M135.30,449.00 L142.80,447.65 L150.30,449.00 L142.80,450.35 Z" fill="#4b5aa2"/>
<path d="M136.30,451.80 L142.80,450.86 L149.30,451.80 L142.80,452.75 Z" fill="#f6f08a"/>
<path d="M136.30,453.60 L142.80,452.66 L149.30,453.60 L142.80,454.55 Z" fill="#f6f08a"/>
<path d="M135.30,457.70 L142.80,456.49 L150.30,457.70 L142.80,458.91 Z" fill="#7cb24a"/>
<path d="M135.30,460.90 L142.80,459.89 L150.30,460.90 L142.80,461.91 Z" fill="#7b6a94"/>
<path d="M135.30,463.10 L142.80,461.75 L150.30,463.10 L142.80,464.45 Z" fill="#f1e81c"/>
<path d="M135.80,465.00 L142.80,464.19 L149.80,465.00 L142.80,465.81 Z" fill="#a7a796"/>
<path d="M135.80,468.00 L142.80,466.79 L149.80,468.00 L142.80,469.21 Z" fill="#f6f08a"/>
<path d="M135.80,470.00 L142.80,469.06 L149.80,470.00 L142.80,470.94 Z" fill="#7cb24a"/>
<path d="M135.30,474.50 L142.80,473.29 L150.30,474.50 L142.80,475.71 Z" fill="#8c96ac"/>
<path d="M135.30,477.20 L142.80,476.12 L150.30,477.20 L142.80,478.28 Z" fill="#7cb24a"/>
<path d="M135.30,484.00 L142.80,482.99 L150.30,484.00 L142.80,485.01 Z" fill="#6f6a34"/>
<path d="M136.30,486.50 L142.80,485.49 L149.30,486.50 L142.80,487.51 Z" fill="#f6f08a"/>
<path d="M135.30,489.90 L142.80,488.41 L150.30,489.90 L142.80,491.38 Z" fill="#f1e81c"/>
<path d="M135.30,492.10 L142.80,491.09 L150.30,492.10 L142.80,493.11 Z" fill="#6f6a34"/>
<path d="M135.30,495.30 L142.80,494.09 L150.30,495.30 L142.80,496.51 Z" fill="#6f6a34"/>
<path d="M135.30,498.00 L142.80,496.65 L150.30,498.00 L142.80,499.35 Z" fill="#f1e81c"/>
<path d="M135.80,502.30 L142.80,501.49 L149.80,502.30 L142.80,503.11 Z" fill="#6f6a34"/>
<path d="M135.30,516.80 L142.80,515.79 L150.30,516.80 L142.80,517.81 Z" fill="#6f6a34"/>
<path d="M135.30,520.40 L142.80,519.18 L150.30,520.40 L142.80,521.62 Z" fill="#7b6a94"/>
<path d="M135.80,523.50 L142.80,522.28 L149.80,523.50 L142.80,524.72 Z" fill="#f1e81c"/>
<path d="M135.30,525.50 L142.80,524.15 L150.30,525.50 L142.80,526.85 Z" fill="#f1e81c"/>
<path d="M135.80,526.70 L142.80,525.69 L149.80,526.70 L142.80,527.71 Z" fill="#f6f08a"/>
<path d="M135.30,530.00 L142.80,528.92 L150.30,530.00 L142.80,531.08 Z" fill="#4b5aa2"/>
<path d="M135.30,534.40 L142.80,533.18 L150.30,534.40 L142.80,535.62 Z" fill="#7b6a94"/>
<path d="M135.30,538.50 L142.80,537.15 L150.30,538.50 L142.80,539.85 Z" fill="#7cb24a"/>
<path d="M135.30,543.20 L142.80,541.85 L150.30,543.20 L142.80,544.55 Z" fill="#f1e81c"/>
<path d="M135.30,545.50 L142.80,544.15 L150.30,545.50 L142.80,546.85 Z" fill="#f1e81c"/>
<path d="M135.30,547.80 L142.80,546.45 L150.30,547.80 L142.80,549.15 Z" fill="#f1e81c"/>
<path d="M135.30,550.20 L142.80,548.85 L150.30,550.20 L142.80,551.55 Z" fill="#f1e81c"/>
<path d="M135.80,552.50 L142.80,551.42 L149.80,552.50 L142.80,553.58 Z" fill="#7cb24a"/>
<path d="M135.30,555.40 L142.80,554.39 L150.30,555.40 L142.80,556.41 Z" fill="#7b6a94"/>
<path d="M135.80,559.50 L142.80,558.42 L149.80,559.50 L142.80,560.58 Z" fill="#f6f08a"/>
<path d="M135.80,561.80 L142.80,560.85 L149.80,561.80 L142.80,562.75 Z" fill="#f6f08a"/>
<path d="M136.80,564.50 L142.80,563.69 L148.80,564.50 L142.80,565.31 Z" fill="#f6f08a"/>
<path d="M135.30,568.60 L142.80,567.38 L150.30,568.60 L142.80,569.82 Z" fill="#f1e81c"/>
<path d="M137.80,572.70 L142.80,572.03 L147.80,572.70 L142.80,573.38 Z" fill="#f6f08a"/>
<path d="M135.30,580.40 L142.80,579.32 L150.30,580.40 L142.80,581.48 Z" fill="#4b5aa2"/>
<path d="M135.30,583.00 L142.80,581.65 L150.30,583.00 L142.80,584.35 Z" fill="#f1e81c"/>
<path d="M135.30,584.90 L142.80,583.68 L150.30,584.90 L142.80,586.12 Z" fill="#f1e81c"/>
<path d="M135.30,587.20 L142.80,586.19 L150.30,587.20 L142.80,588.21 Z" fill="#8a6a52"/>
<path d="M135.30,590.00 L142.80,588.65 L150.30,590.00 L142.80,591.35 Z" fill="#7cb24a"/>
<path d="M135.30,591.70 L142.80,590.49 L150.30,591.70 L142.80,592.92 Z" fill="#7cb24a"/>
<path d="M135.80,593.50 L142.80,592.55 L149.80,593.50 L142.80,594.45 Z" fill="#7cb24a"/>
<path d="M135.80,599.00 L142.80,598.05 L149.80,599.00 L142.80,599.95 Z" fill="#f6f08a"/>
<path d="M135.30,604.20 L142.80,602.85 L150.30,604.20 L142.80,605.55 Z" fill="#4b5aa2"/>
<path d="M135.80,609.30 L142.80,608.08 L149.80,609.30 L142.80,610.51 Z" fill="#f1e81c"/>
<path d="M136.30,611.30 L142.80,610.35 L149.30,611.30 L142.80,612.25 Z" fill="#f6f08a"/>
<path d="M135.30,614.50 L142.80,613.28 L150.30,614.50 L142.80,615.72 Z" fill="#8c96ac"/>
<path d="M135.30,624.50 L142.80,623.42 L150.30,624.50 L142.80,625.58 Z" fill="#6f6a34"/>
<path d="M135.30,627.20 L142.80,625.99 L150.30,627.20 L142.80,628.42 Z" fill="#f1e81c"/>
<path d="M135.30,631.30 L142.80,630.22 L150.30,631.30 L142.80,632.38 Z" fill="#8c96ac"/>
<path d="M135.80,633.50 L142.80,632.55 L149.80,633.50 L142.80,634.45 Z" fill="#f6f08a"/>
<path d="M135.30,635.80 L142.80,634.72 L150.30,635.80 L142.80,636.88 Z" fill="#6f6a34"/>
<path d="M135.80,638.20 L142.80,636.99 L149.80,638.20 L142.80,639.42 Z" fill="#f1e81c"/>
<path d="M136.30,640.00 L142.80,638.99 L149.30,640.00 L142.80,641.01 Z" fill="#f1e81c"/>
<path d="M136.80,641.70 L142.80,640.89 L148.80,641.70 L142.80,642.51 Z" fill="#f6f08a"/>
<path d="M136.30,646.70 L142.80,645.89 L149.30,646.70 L142.80,647.51 Z" fill="#f6f08a"/>
<path d="M135.30,649.40 L142.80,648.52 L150.30,649.40 L142.80,650.28 Z" fill="#4b5aa2"/>
<line x1="142.8" y1="35" x2="142.8" y2="80" stroke="#3a3a3a" stroke-width="1.2"/>
<line x1="142.8" y1="145" x2="142.8" y2="153" stroke="#333" stroke-width="1.4" opacity="0.9"/>
<line x1="142.8" y1="218" x2="142.8" y2="232" stroke="#333" stroke-width="1.4" opacity="0.9"/>
<line x1="142.8" y1="355.8" x2="142.8" y2="377.6" stroke="#333" stroke-width="1.4" opacity="0.9"/>
<line x1="142.8" y1="341" x2="142.8" y2="349" stroke="#333" stroke-width="1.4" opacity="0.9"/>
<line x1="142.8" y1="466" x2="142.8" y2="484" stroke="#333" stroke-width="1.4" opacity="0.9"/>
<line x1="142.8" y1="510" x2="142.8" y2="520" stroke="#333" stroke-width="1.4" opacity="0.9"/>
<line x1="142.8" y1="527" x2="142.8" y2="540" stroke="#333" stroke-width="1.4" opacity="0.9"/>
<line x1="142.8" y1="555" x2="142.8" y2="580" stroke="#333" stroke-width="1.4" opacity="0.9"/>
<line x1="142.8" y1="593" x2="142.8" y2="604" stroke="#333" stroke-width="1.4" opacity="0.9"/>
<line x1="142.8" y1="641" x2="142.8" y2="649" stroke="#333" stroke-width="1.4" opacity="0.9"/>
</g>
<line x1="196.1" y1="35" x2="196.1" y2="645" stroke="#9c9c9c" stroke-width="2"/>
<rect x="189.2" y="70.3" width="13.6" height="8.200000000000003" fill="#d2d2d2" stroke="#8c8c8c" stroke-width="0.7"/>
<line x1="189.2" y1="71.94" x2="202.8" y2="71.94" stroke="#a8a8a8" stroke-width="0.5"/>
<line x1="189.2" y1="73.58" x2="202.8" y2="73.58" stroke="#a8a8a8" stroke-width="0.5"/>
<line x1="189.2" y1="75.22" x2="202.8" y2="75.22" stroke="#a8a8a8" stroke-width="0.5"/>
<line x1="189.2" y1="76.86" x2="202.8" y2="76.86" stroke="#a8a8a8" stroke-width="0.5"/>
<rect x="189.2" y="146.1" width="13.6" height="2.0" fill="#e6e6e6" stroke="#8c8c8c" stroke-width="0.7"/>
<rect x="189.2" y="150.4" width="13.6" height="2.0" fill="#e6e6e6" stroke="#8c8c8c" stroke-width="0.7"/>
<rect x="189.2" y="154.6" width="13.6" height="5.099999999999994" fill="#d2d2d2" stroke="#8c8c8c" stroke-width="0.7"/>
<line x1="189.2" y1="156.30" x2="202.8" y2="156.30" stroke="#a8a8a8" stroke-width="0.5"/>
<line x1="189.2" y1="158.00" x2="202.8" y2="158.00" stroke="#a8a8a8" stroke-width="0.5"/>
<line x1="189" y1="257" x2="203" y2="257" stroke="#555" stroke-width="0.9"/>
<line x1="189" y1="268.2" x2="203" y2="268.2" stroke="#555" stroke-width="0.9"/>
<rect x="189.2" y="272.7" width="13.6" height="3.1000000000000227" fill="#9a9a9a" stroke="#8a8a8a" stroke-width="0.5"/>
<rect x="189.2" y="280.6" width="13.6" height="1.7999999999999545" fill="#e6e6e6" stroke="#8c8c8c" stroke-width="0.7"/>
<rect x="189.2" y="282.8" width="13.6" height="1.8000000000000114" fill="#e6e6e6" stroke="#8c8c8c" stroke-width="0.7"/>
<rect x="189.2" y="287.3" width="13.6" height="2.1999999999999886" fill="#e6e6e6" stroke="#8c8c8c" stroke-width="0.7"/>
<rect x="189.2" y="355.8" width="13.6" height="11.699999999999989" fill="#d2d2d2" stroke="#8c8c8c" stroke-width="0.7"/>
<line x1="189.2" y1="357.47" x2="202.8" y2="357.47" stroke="#a8a8a8" stroke-width="0.5"/>
<line x1="189.2" y1="359.14" x2="202.8" y2="359.14" stroke="#a8a8a8" stroke-width="0.5"/>
<line x1="189.2" y1="360.81" x2="202.8" y2="360.81" stroke="#a8a8a8" stroke-width="0.5"/>
<line x1="189.2" y1="362.49" x2="202.8" y2="362.49" stroke="#a8a8a8" stroke-width="0.5"/>
<line x1="189.2" y1="364.16" x2="202.8" y2="364.16" stroke="#a8a8a8" stroke-width="0.5"/>
<line x1="189.2" y1="365.83" x2="202.8" y2="365.83" stroke="#a8a8a8" stroke-width="0.5"/>
<rect x="189.2" y="414" width="13.6" height="2.3000000000000114" fill="#e6e6e6" stroke="#8c8c8c" stroke-width="0.7"/>
<rect x="189.2" y="433.6" width="13.6" height="2.0" fill="#e6e6e6" stroke="#8c8c8c" stroke-width="0.7"/>
<rect x="189.2" y="443.3" width="13.6" height="2.0" fill="#e6e6e6" stroke="#8c8c8c" stroke-width="0.7"/>
<rect x="189.2" y="456.3" width="13.6" height="1.3000000000000114" fill="#9a9a9a" stroke="#8a8a8a" stroke-width="0.5"/>
<rect x="189.2" y="471.3" width="13.6" height="3.3000000000000114" fill="#e6e6e6" stroke="#8c8c8c" stroke-width="0.7"/>
<rect x="189.2" y="481.3" width="13.6" height="2.0" fill="#e6e6e6" stroke="#8c8c8c" stroke-width="0.7"/>
<rect x="189.2" y="528" width="13.6" height="2" fill="#e6e6e6" stroke="#8c8c8c" stroke-width="0.7"/>
<rect x="189.2" y="536.3" width="13.6" height="1.7000000000000455" fill="#9a9a9a" stroke="#8a8a8a" stroke-width="0.5"/>
<rect x="189.2" y="553.6" width="13.6" height="2.0" fill="#e6e6e6" stroke="#8c8c8c" stroke-width="0.7"/>
<rect x="189.2" y="565.8" width="13.6" height="2.5" fill="#e6e6e6" stroke="#8c8c8c" stroke-width="0.7"/>
<rect x="189.2" y="574" width="13.6" height="2" fill="#9a9a9a" stroke="#8a8a8a" stroke-width="0.5"/>
<rect x="189.2" y="644.3" width="13.6" height="5.2000000000000455" fill="#d2d2d2" stroke="#8c8c8c" stroke-width="0.7"/>
<line x1="189.2" y1="646.03" x2="202.8" y2="646.03" stroke="#a8a8a8" stroke-width="0.5"/>
<line x1="189.2" y1="647.77" x2="202.8" y2="647.77" stroke="#a8a8a8" stroke-width="0.5"/>
<line x1="203.5" y1="71.5" x2="215.6" y2="38.20" stroke="#8a8a8a" stroke-width="0.6"/>
<text x="217.00" y="39.30" font-size="8.5" text-anchor="start" fill="#222" font-weight="normal" font-family='"Liberation Sans", sans-serif' stroke="#222" stroke-width="0.18" >amp39</text>
<line x1="203.5" y1="72.5" x2="215.6" y2="49.70" stroke="#8a8a8a" stroke-width="0.6"/>
<text x="217.00" y="50.80" font-size="8.5" text-anchor="start" fill="#222" font-weight="normal" font-family='"Liberation Sans", sans-serif' stroke="#222" stroke-width="0.18" >amp38</text>
<line x1="203.5" y1="73.5" x2="215.6" y2="61.20" stroke="#8a8a8a" stroke-width="0.6"/>
<text x="217.00" y="62.30" font-size="8.5" text-anchor="start" fill="#222" font-weight="normal" font-family='"Liberation Sans", sans-serif' stroke="#222" stroke-width="0.18" >amp37</text>
<line x1="203.5" y1="75" x2="215.6" y2="72.80" stroke="#8a8a8a" stroke-width="0.6"/>
<text x="217.00" y="73.90" font-size="8.5" text-anchor="start" fill="#222" font-weight="normal" font-family='"Liberation Sans", sans-serif' stroke="#222" stroke-width="0.18" >amp36</text>
<line x1="203.5" y1="77.5" x2="215.6" y2="84.30" stroke="#8a8a8a" stroke-width="0.6"/>
<text x="217.00" y="85.40" font-size="8.5" text-anchor="start" fill="#222" font-weight="normal" font-family='"Liberation Sans", sans-serif' stroke="#222" stroke-width="0.18" >amp35</text>
<line x1="203.5" y1="146" x2="215.6" y2="108.20" stroke="#8a8a8a" stroke-width="0.6"/>
<text x="217.00" y="109.30" font-size="8.5" text-anchor="start" fill="#222" font-weight="normal" font-family='"Liberation Sans", sans-serif' stroke="#222" stroke-width="0.18" >amp34</text>
<line x1="203.5" y1="147.5" x2="215.6" y2="119.70" stroke="#8a8a8a" stroke-width="0.6"/>
<text x="217.00" y="120.80" font-size="8.5" text-anchor="start" fill="#222" font-weight="normal" font-family='"Liberation Sans", sans-serif' stroke="#222" stroke-width="0.18" >amp33</text>
<line x1="203.5" y1="150" x2="215.6" y2="131.20" stroke="#8a8a8a" stroke-width="0.6"/>
<text x="217.00" y="132.30" font-size="8.5" text-anchor="start" fill="#222" font-weight="normal" font-family='"Liberation Sans", sans-serif' stroke="#222" stroke-width="0.18" >amp32</text>
<line x1="203.5" y1="151.5" x2="215.6" y2="142.80" stroke="#8a8a8a" stroke-width="0.6"/>
<text x="217.00" y="143.90" font-size="8.5" text-anchor="start" fill="#222" font-weight="normal" font-family='"Liberation Sans", sans-serif' stroke="#222" stroke-width="0.18" >amp31</text>
<line x1="203.5" y1="155.5" x2="215.6" y2="154.30" stroke="#8a8a8a" stroke-width="0.6"/>
<text x="217.00" y="155.40" font-size="8.5" text-anchor="start" fill="#222" font-weight="normal" font-family='"Liberation Sans", sans-serif' stroke="#222" stroke-width="0.18" >amp30A</text>
<line x1="203.5" y1="158.5" x2="215.6" y2="165.40" stroke="#8a8a8a" stroke-width="0.6"/>
<text x="217.00" y="166.50" font-size="8.5" text-anchor="start" fill="#222" font-weight="normal" font-family='"Liberation Sans", sans-serif' stroke="#222" stroke-width="0.18" >amp29A</text>
<line x1="203.5" y1="257" x2="215.6" y2="186.30" stroke="#8a8a8a" stroke-width="0.6"/>
<text x="217.00" y="187.40" font-size="8.5" text-anchor="start" fill="#222" font-weight="normal" font-family='"Liberation Sans", sans-serif' stroke="#222" stroke-width="0.18" >amp30B</text>
<line x1="203.5" y1="268.2" x2="215.6" y2="199.30" stroke="#8a8a8a" stroke-width="0.6"/>
<text x="217.00" y="200.40" font-size="8.5" text-anchor="start" fill="#222" font-weight="normal" font-family='"Liberation Sans", sans-serif' stroke="#222" stroke-width="0.18" >amp29B</text>
<line x1="203.5" y1="273" x2="215.6" y2="212.30" stroke="#8a8a8a" stroke-width="0.6"/>
<text x="217.00" y="213.40" font-size="8.5" text-anchor="start" fill="#222" font-weight="normal" font-family='"Liberation Sans", sans-serif' stroke="#222" stroke-width="0.18" >amp28</text>
<line x1="203.5" y1="274.5" x2="215.6" y2="224.80" stroke="#8a8a8a" stroke-width="0.6"/>
<text x="217.00" y="225.90" font-size="8.5" text-anchor="start" fill="#222" font-weight="normal" font-family='"Liberation Sans", sans-serif' stroke="#222" stroke-width="0.18" >amp27</text>
<line x1="203.5" y1="276" x2="215.6" y2="237.80" stroke="#8a8a8a" stroke-width="0.6"/>
<text x="217.00" y="238.90" font-size="8.5" text-anchor="start" fill="#222" font-weight="normal" font-family='"Liberation Sans", sans-serif' stroke="#222" stroke-width="0.18" >amp26</text>
<line x1="203.5" y1="281.5" x2="215.6" y2="251.00" stroke="#8a8a8a" stroke-width="0.6"/>
<text x="217.00" y="252.10" font-size="8.5" text-anchor="start" fill="#222" font-weight="normal" font-family='"Liberation Sans", sans-serif' stroke="#222" stroke-width="0.18" >amp25</text>
<line x1="203.5" y1="283.2" x2="215.6" y2="264.00" stroke="#8a8a8a" stroke-width="0.6"/>
<text x="217.00" y="265.10" font-size="8.5" text-anchor="start" fill="#222" font-weight="normal" font-family='"Liberation Sans", sans-serif' stroke="#222" stroke-width="0.18" >amp24</text>
<line x1="203.5" y1="285" x2="215.6" y2="277.20" stroke="#8a8a8a" stroke-width="0.6"/>
<text x="217.00" y="278.30" font-size="8.5" text-anchor="start" fill="#222" font-weight="normal" font-family='"Liberation Sans", sans-serif' stroke="#222" stroke-width="0.18" >amp23</text>
<line x1="203.5" y1="288.5" x2="215.6" y2="290.20" stroke="#8a8a8a" stroke-width="0.6"/>
<text x="217.00" y="291.30" font-size="8.5" text-anchor="start" fill="#222" font-weight="normal" font-family='"Liberation Sans", sans-serif' stroke="#222" stroke-width="0.18" >amp22</text>
<line x1="203.5" y1="356.5" x2="215.6" y2="303.20" stroke="#8a8a8a" stroke-width="0.6"/>
<text x="217.00" y="304.30" font-size="8.5" text-anchor="start" fill="#222" font-weight="normal" font-family='"Liberation Sans", sans-serif' stroke="#222" stroke-width="0.18" >amp21</text>
<line x1="203.5" y1="358" x2="215.6" y2="316.10" stroke="#8a8a8a" stroke-width="0.6"/>
<text x="217.00" y="317.20" font-size="8.5" text-anchor="start" fill="#222" font-weight="normal" font-family='"Liberation Sans", sans-serif' stroke="#222" stroke-width="0.18" >amp20</text>
<line x1="203.5" y1="360" x2="215.6" y2="329.00" stroke="#8a8a8a" stroke-width="0.6"/>
<text x="217.00" y="330.10" font-size="8.5" text-anchor="start" fill="#222" font-weight="normal" font-family='"Liberation Sans", sans-serif' stroke="#222" stroke-width="0.18" >amp19</text>
<line x1="203.5" y1="362" x2="215.6" y2="342.00" stroke="#8a8a8a" stroke-width="0.6"/>
<text x="217.00" y="343.10" font-size="8.5" text-anchor="start" fill="#222" font-weight="normal" font-family='"Liberation Sans", sans-serif' stroke="#222" stroke-width="0.18" >amp18</text>
<line x1="203.5" y1="364" x2="215.6" y2="355.00" stroke="#8a8a8a" stroke-width="0.6"/>
<text x="217.00" y="356.10" font-size="8.5" text-anchor="start" fill="#222" font-weight="normal" font-family='"Liberation Sans", sans-serif' stroke="#222" stroke-width="0.18" >amp17</text>
<line x1="203.5" y1="366.5" x2="215.6" y2="368.10" stroke="#8a8a8a" stroke-width="0.6"/>
<text x="217.00" y="369.20" font-size="8.5" text-anchor="start" fill="#222" font-weight="normal" font-family='"Liberation Sans", sans-serif' stroke="#222" stroke-width="0.18" >amp16</text>
<line x1="203.5" y1="415" x2="215.6" y2="406.50" stroke="#8a8a8a" stroke-width="0.6"/>
<text x="217.00" y="407.60" font-size="8.5" text-anchor="start" fill="#222" font-weight="normal" font-family='"Liberation Sans", sans-serif' stroke="#222" stroke-width="0.18" >amp15</text>
<line x1="203.5" y1="434.6" x2="215.6" y2="419.50" stroke="#8a8a8a" stroke-width="0.6"/>
<text x="217.00" y="420.60" font-size="8.5" text-anchor="start" fill="#222" font-weight="normal" font-family='"Liberation Sans", sans-serif' stroke="#222" stroke-width="0.18" >amp14</text>
<line x1="203.5" y1="444.3" x2="215.6" y2="432.50" stroke="#8a8a8a" stroke-width="0.6"/>
<text x="217.00" y="433.60" font-size="8.5" text-anchor="start" fill="#222" font-weight="normal" font-family='"Liberation Sans", sans-serif' stroke="#222" stroke-width="0.18" >amp13</text>
<line x1="203.5" y1="457" x2="215.6" y2="445.60" stroke="#8a8a8a" stroke-width="0.6"/>
<text x="217.00" y="446.70" font-size="8.5" text-anchor="start" fill="#222" font-weight="normal" font-family='"Liberation Sans", sans-serif' stroke="#222" stroke-width="0.18" >amp12</text>
<line x1="203.5" y1="472" x2="215.6" y2="458.60" stroke="#8a8a8a" stroke-width="0.6"/>
<text x="217.00" y="459.70" font-size="8.5" text-anchor="start" fill="#222" font-weight="normal" font-family='"Liberation Sans", sans-serif' stroke="#222" stroke-width="0.18" >amp11</text>
<line x1="203.5" y1="473.5" x2="215.6" y2="471.40" stroke="#8a8a8a" stroke-width="0.6"/>
<text x="217.00" y="472.50" font-size="8.5" text-anchor="start" fill="#222" font-weight="normal" font-family='"Liberation Sans", sans-serif' stroke="#222" stroke-width="0.18" >amp10</text>
<line x1="203.5" y1="482.4" x2="215.6" y2="484.40" stroke="#8a8a8a" stroke-width="0.6"/>
<text x="217.00" y="485.50" font-size="8.5" text-anchor="start" fill="#222" font-weight="normal" font-family='"Liberation Sans", sans-serif' stroke="#222" stroke-width="0.18" >amp09</text>
<line x1="203.5" y1="529" x2="215.6" y2="526.50" stroke="#8a8a8a" stroke-width="0.6"/>
<text x="217.00" y="527.60" font-size="8.5" text-anchor="start" fill="#222" font-weight="normal" font-family='"Liberation Sans", sans-serif' stroke="#222" stroke-width="0.18" >amp08</text>
<line x1="203.5" y1="537.2" x2="215.6" y2="539.00" stroke="#8a8a8a" stroke-width="0.6"/>
<text x="217.00" y="540.10" font-size="8.5" text-anchor="start" fill="#222" font-weight="normal" font-family='"Liberation Sans", sans-serif' stroke="#222" stroke-width="0.18" >amp07</text>
<line x1="203.5" y1="554.6" x2="215.6" y2="551.10" stroke="#8a8a8a" stroke-width="0.6"/>
<text x="217.00" y="552.20" font-size="8.5" text-anchor="start" fill="#222" font-weight="normal" font-family='"Liberation Sans", sans-serif' stroke="#222" stroke-width="0.18" >amp06</text>
<line x1="203.5" y1="567" x2="215.6" y2="564.10" stroke="#8a8a8a" stroke-width="0.6"/>
<text x="217.00" y="565.20" font-size="8.5" text-anchor="start" fill="#222" font-weight="normal" font-family='"Liberation Sans", sans-serif' stroke="#222" stroke-width="0.18" >amp05</text>
<line x1="203.5" y1="575" x2="215.6" y2="576.90" stroke="#8a8a8a" stroke-width="0.6"/>
<text x="217.00" y="578.00" font-size="8.5" text-anchor="start" fill="#222" font-weight="normal" font-family='"Liberation Sans", sans-serif' stroke="#222" stroke-width="0.18" >amp04</text>
<line x1="203.5" y1="645" x2="215.6" y2="619.70" stroke="#8a8a8a" stroke-width="0.6"/>
<text x="217.00" y="620.80" font-size="8.5" text-anchor="start" fill="#222" font-weight="normal" font-family='"Liberation Sans", sans-serif' stroke="#222" stroke-width="0.18" >amp03</text>
<line x1="203.5" y1="646.5" x2="215.6" y2="632.80" stroke="#8a8a8a" stroke-width="0.6"/>
<text x="217.00" y="633.90" font-size="8.5" text-anchor="start" fill="#222" font-weight="normal" font-family='"Liberation Sans", sans-serif' stroke="#222" stroke-width="0.18" >amp02</text>
<line x1="203.5" y1="648" x2="215.6" y2="645.40" stroke="#8a8a8a" stroke-width="0.6"/>
<text x="217.00" y="646.50" font-size="8.5" text-anchor="start" fill="#222" font-weight="normal" font-family='"Liberation Sans", sans-serif' stroke="#222" stroke-width="0.18" >amp01</text>
<line x1="283.5" y1="35" x2="283.5" y2="647.5" stroke="#333" stroke-width="0.9"/>
<line x1="278.8" y1="71.6" x2="288.6" y2="71.6" stroke="#333" stroke-width="1.8"/>
<line x1="278.8" y1="76.2" x2="288.6" y2="76.2" stroke="#999" stroke-width="1.2"/>
<line x1="278.8" y1="147.7" x2="288.6" y2="147.7" stroke="#333" stroke-width="1.4"/>
<line x1="278.8" y1="155.4" x2="288.6" y2="155.4" stroke="#999" stroke-width="1.2"/>
<line x1="278.8" y1="157.7" x2="288.6" y2="157.7" stroke="#333" stroke-width="1.6"/>
<line x1="278.8" y1="274.2" x2="288.6" y2="274.2" stroke="#aaa" stroke-width="0.8"/>
<line x1="278.8" y1="280.4" x2="288.6" y2="280.4" stroke="#aaa" stroke-width="0.8"/>
<line x1="278.8" y1="287.6" x2="288.6" y2="287.6" stroke="#aaa" stroke-width="0.8"/>
<line x1="278.8" y1="360.3" x2="288.6" y2="360.3" stroke="#333" stroke-width="1.8"/>
<line x1="278.8" y1="365.8" x2="288.6" y2="365.8" stroke="#999" stroke-width="1.4"/>
<line x1="278.8" y1="414.3" x2="288.6" y2="414.3" stroke="#999" stroke-width="0.9"/>
<line x1="278.8" y1="456.5" x2="288.6" y2="456.5" stroke="#555" stroke-width="0.9"/>
<line x1="278.8" y1="473.8" x2="288.6" y2="473.8" stroke="#333" stroke-width="1.4"/>
<line x1="278.8" y1="482.3" x2="288.6" y2="482.3" stroke="#444" stroke-width="1.0"/>
<line x1="278.8" y1="537" x2="288.6" y2="537" stroke="#999" stroke-width="0.9"/>
<line x1="278.8" y1="554.6" x2="288.6" y2="554.6" stroke="#555" stroke-width="0.9"/>
<line x1="278.8" y1="567" x2="288.6" y2="567" stroke="#444" stroke-width="1.2"/>
<line x1="278.8" y1="647.4" x2="288.6" y2="647.4" stroke="#333" stroke-width="1.8"/>
<line x1="289" y1="73.5" x2="300.5" y2="47.30" stroke="#8a8a8a" stroke-width="0.6"/>
<text x="321.70" y="50.40" font-size="8.65" text-anchor="middle" fill="#111" font-weight="normal" font-family='"Liberation Sans", sans-serif' stroke="#111" stroke-width="0.18" >T187064C</text>
<line x1="289" y1="73.5" x2="300.5" y2="57.30" stroke="#8a8a8a" stroke-width="0.6"/>
<text x="321.70" y="60.40" font-size="8.65" text-anchor="middle" fill="#111" font-weight="normal" font-family='"Liberation Sans", sans-serif' stroke="#111" stroke-width="0.18" >T186987G</text>
<line x1="289" y1="73.5" x2="300.5" y2="67.60" stroke="#8a8a8a" stroke-width="0.6"/>
<text x="321.70" y="70.70" font-size="8.65" text-anchor="middle" fill="#111" font-weight="normal" font-family='"Liberation Sans", sans-serif' stroke="#111" stroke-width="0.18" >G186799A</text>
<line x1="343.8" y1="67.60" x2="365.5" y2="67.60" stroke="#8a8a8a" stroke-width="0.8" stroke-dasharray="5.5,2"/>
<text x="384.20" y="70.70" font-size="8.65" text-anchor="middle" fill="#111" font-weight="normal" font-family='"Liberation Sans", sans-serif' stroke="#111" stroke-width="0.18" >G8899A</text>
<line x1="289" y1="73.5" x2="300.5" y2="78.40" stroke="#8a8a8a" stroke-width="0.6"/>
<text x="321.70" y="81.50" font-size="8.65" text-anchor="middle" fill="#111" font-weight="normal" font-family='"Liberation Sans", sans-serif' stroke="#111" stroke-width="0.18" >C186602T</text>
<line x1="343.8" y1="78.40" x2="365.5" y2="78.40" stroke="#8a8a8a" stroke-width="0.8" stroke-dasharray="5.5,2"/>
<text x="384.20" y="81.50" font-size="8.65" text-anchor="middle" fill="#111" font-weight="normal" font-family='"Liberation Sans", sans-serif' stroke="#111" stroke-width="0.18" >C8702T</text>
<line x1="289" y1="73.5" x2="300.5" y2="88.90" stroke="#8a8a8a" stroke-width="0.6"/>
<text x="321.70" y="92.00" font-size="8.65" text-anchor="middle" fill="#111" font-weight="normal" font-family='"Liberation Sans", sans-serif' stroke="#111" stroke-width="0.18" >A186506G</text>
<line x1="343.8" y1="88.90" x2="365.5" y2="88.90" stroke="#8a8a8a" stroke-width="0.8" stroke-dasharray="5.5,2"/>
<text x="384.20" y="92.00" font-size="8.65" text-anchor="middle" fill="#111" font-weight="normal" font-family='"Liberation Sans", sans-serif' stroke="#111" stroke-width="0.18" >A8606G</text>
<line x1="289" y1="73.5" x2="300.5" y2="99.60" stroke="#8a8a8a" stroke-width="0.6"/>
<text x="321.70" y="102.70" font-size="8.65" text-anchor="middle" fill="#111" font-weight="normal" font-family='"Liberation Sans", sans-serif' stroke="#111" stroke-width="0.18" >G186341A</text>
<line x1="343.8" y1="99.60" x2="365.5" y2="99.60" stroke="#8a8a8a" stroke-width="0.8" stroke-dasharray="5.5,2"/>
<text x="384.20" y="102.70" font-size="8.65" text-anchor="middle" fill="#111" font-weight="normal" font-family='"Liberation Sans", sans-serif' stroke="#111" stroke-width="0.18" >G8441A</text>
<line x1="289" y1="73.5" x2="300.5" y2="110.40" stroke="#8a8a8a" stroke-width="0.6"/>
<text x="321.70" y="113.50" font-size="8.65" text-anchor="middle" fill="#111" font-weight="normal" font-family='"Liberation Sans", sans-serif' stroke="#111" stroke-width="0.18" >C185156T</text>
<line x1="343.8" y1="110.40" x2="365.5" y2="110.40" stroke="#8a8a8a" stroke-width="0.8" stroke-dasharray="5.5,2"/>
<text x="384.20" y="113.50" font-size="8.65" text-anchor="middle" fill="#111" font-weight="normal" font-family='"Liberation Sans", sans-serif' stroke="#111" stroke-width="0.18" >C7256T</text>
<line x1="289" y1="147.7" x2="300.5" y2="121.10" stroke="#8a8a8a" stroke-width="0.6"/>
<text x="321.70" y="124.20" font-size="8.65" text-anchor="middle" fill="#111" font-weight="normal" font-family='"Liberation Sans", sans-serif' stroke="#111" stroke-width="0.18" >T162475C</text>
<line x1="289" y1="147.7" x2="300.5" y2="132.30" stroke="#8a8a8a" stroke-width="0.6"/>
<text x="321.70" y="135.40" font-size="8.65" text-anchor="middle" fill="#4f9150" font-weight="normal" font-family='"Liberation Sans", sans-serif' stroke="#4f9150" stroke-width="0.18" >A162161G</text>
<line x1="343.5" y1="132.30" x2="365.8" y2="126.40" stroke="#8a8a8a" stroke-width="0.7"/>
<text x="384.20" y="129.50" font-size="8.65" text-anchor="middle" fill="#4f9150" font-weight="normal" font-family='"Liberation Sans", sans-serif' stroke="#4f9150" stroke-width="0.18" >A6940G</text>
<line x1="402.5" y1="126.40" x2="425" y2="126.40" stroke="#8a8a8a" stroke-width="0.8" stroke-dasharray="5.5,2"/>
<text x="450.00" y="129.50" font-size="8.8" text-anchor="middle" fill="#4f9150" font-weight="normal" font-family='"Liberation Sans", sans-serif' stroke="#4f9150" stroke-width="0.18" >Met2238Val</text>
<line x1="289" y1="149" x2="300.5" y2="151.50" stroke="#8a8a8a" stroke-width="0.6"/>
<text x="321.70" y="154.60" font-size="8.65" text-anchor="middle" fill="#111" font-weight="normal" font-family='"Liberation Sans", sans-serif' stroke="#111" stroke-width="0.18" >G162013T</text>
<line x1="289" y1="157.7" x2="300.5" y2="161.90" stroke="#8a8a8a" stroke-width="0.6"/>
<text x="321.70" y="165.00" font-size="8.65" text-anchor="middle" fill="#111" font-weight="normal" font-family='"Liberation Sans", sans-serif' stroke="#111" stroke-width="0.18" >G159874A</text>
<line x1="289" y1="157.7" x2="300.5" y2="173.90" stroke="#8a8a8a" stroke-width="0.6"/>
<text x="321.70" y="177.00" font-size="8.65" text-anchor="middle" fill="#111" font-weight="normal" font-family='"Liberation Sans", sans-serif' stroke="#111" stroke-width="0.18" >G159087A</text>
<line x1="289" y1="157.7" x2="300.5" y2="186.90" stroke="#8a8a8a" stroke-width="0.6"/>
<text x="321.70" y="190.00" font-size="8.65" text-anchor="middle" fill="#111" font-weight="normal" font-family='"Liberation Sans", sans-serif' stroke="#111" stroke-width="0.18" >C158820T</text>
<line x1="289" y1="157.7" x2="300.5" y2="199.40" stroke="#8a8a8a" stroke-width="0.6"/>
<text x="321.70" y="202.50" font-size="8.65" text-anchor="middle" fill="#111" font-weight="normal" font-family='"Liberation Sans", sans-serif' stroke="#111" stroke-width="0.18" >A158777G</text>
<line x1="289" y1="157.7" x2="300.5" y2="229.10" stroke="#8a8a8a" stroke-width="0.6"/>
<text x="321.70" y="232.20" font-size="8.65" text-anchor="middle" fill="#111" font-weight="normal" font-family='"Liberation Sans", sans-serif' stroke="#111" stroke-width="0.18" >C158635T</text>
<line x1="289" y1="157.7" x2="300.5" y2="243.40" stroke="#8a8a8a" stroke-width="0.6"/>
<text x="321.70" y="246.50" font-size="8.65" text-anchor="middle" fill="#111" font-weight="normal" font-family='"Liberation Sans", sans-serif' stroke="#111" stroke-width="0.18" >T158368C</text>
<line x1="289" y1="157.7" x2="300.5" y2="254.70" stroke="#8a8a8a" stroke-width="0.6"/>
<text x="321.70" y="257.80" font-size="8.65" text-anchor="middle" fill="#111" font-weight="normal" font-family='"Liberation Sans", sans-serif' stroke="#111" stroke-width="0.18" >C158352T</text>
<line x1="289" y1="274.2" x2="300.5" y2="270.40" stroke="#8a8a8a" stroke-width="0.6"/>
<text x="321.70" y="273.50" font-size="8.65" text-anchor="middle" fill="#111" font-weight="normal" font-family='"Liberation Sans", sans-serif' stroke="#111" stroke-width="0.18" >T120776C</text>
<line x1="289" y1="280.4" x2="300.5" y2="281.40" stroke="#8a8a8a" stroke-width="0.6"/>
<text x="321.70" y="284.50" font-size="8.65" text-anchor="middle" fill="#111" font-weight="normal" font-family='"Liberation Sans", sans-serif' stroke="#111" stroke-width="0.18" >T118909A</text>
<line x1="289" y1="287.6" x2="300.5" y2="294.70" stroke="#8a8a8a" stroke-width="0.6"/>
<text x="321.70" y="297.80" font-size="8.65" text-anchor="middle" fill="#111" font-weight="normal" font-family='"Liberation Sans", sans-serif' stroke="#111" stroke-width="0.18" >C116434T</text>
<line x1="289" y1="362" x2="302.5" y2="307.90" stroke="#8a8a8a" stroke-width="0.6"/>
<text x="321.70" y="311.00" font-size="8.65" text-anchor="middle" fill="#111" font-weight="normal" font-family='"Liberation Sans", sans-serif' stroke="#111" stroke-width="0.18" >G93434A</text>
<line x1="343.5" y1="307.90" x2="365.8" y2="313.90" stroke="#8a8a8a" stroke-width="0.7"/>
<text x="384.20" y="317.00" font-size="8.65" text-anchor="middle" fill="#111" font-weight="normal" font-family='"Liberation Sans", sans-serif' stroke="#111" stroke-width="0.18" >G4671A</text>
<line x1="402.5" y1="313.90" x2="425" y2="313.90" stroke="#8a8a8a" stroke-width="0.8" stroke-dasharray="5.5,2"/>
<text x="450.00" y="317.00" font-size="8.8" text-anchor="middle" fill="#111" font-weight="normal" font-family='"Liberation Sans", sans-serif' stroke="#111" stroke-width="0.18" >Pro1481Pro</text>
<line x1="289" y1="362" x2="302.5" y2="319.90" stroke="#8a8a8a" stroke-width="0.6"/>
<text x="321.70" y="323.00" font-size="8.65" text-anchor="middle" fill="#111" font-weight="normal" font-family='"Liberation Sans", sans-serif' stroke="#111" stroke-width="0.18" >C93401G</text>
<line x1="343.5" y1="319.90" x2="365.8" y2="325.50" stroke="#8a8a8a" stroke-width="0.7"/>
<text x="384.20" y="328.60" font-size="8.65" text-anchor="middle" fill="#111" font-weight="normal" font-family='"Liberation Sans", sans-serif' stroke="#111" stroke-width="0.18" >C4638G</text>
<line x1="402.5" y1="325.50" x2="425" y2="325.50" stroke="#8a8a8a" stroke-width="0.8" stroke-dasharray="5.5,2"/>
<text x="450.00" y="328.60" font-size="8.8" text-anchor="middle" fill="#111" font-weight="normal" font-family='"Liberation Sans", sans-serif' stroke="#111" stroke-width="0.18" >Val1470Val</text>
<line x1="289" y1="362" x2="302.5" y2="343.10" stroke="#8a8a8a" stroke-width="0.6"/>
<text x="321.70" y="346.20" font-size="8.65" text-anchor="middle" fill="#111" font-weight="normal" font-family='"Liberation Sans", sans-serif' stroke="#111" stroke-width="0.18" >G92927A</text>
<line x1="343.8" y1="343.10" x2="365.5" y2="343.10" stroke="#8a8a8a" stroke-width="0.8" stroke-dasharray="5.5,2"/>
<text x="384.20" y="346.20" font-size="8.65" text-anchor="middle" fill="#111" font-weight="normal" font-family='"Liberation Sans", sans-serif' stroke="#111" stroke-width="0.18" >G4164A</text>
<line x1="402.5" y1="343.10" x2="425" y2="343.10" stroke="#8a8a8a" stroke-width="0.8" stroke-dasharray="5.5,2"/>
<text x="450.00" y="346.20" font-size="8.8" text-anchor="middle" fill="#111" font-weight="normal" font-family='"Liberation Sans", sans-serif' stroke="#111" stroke-width="0.18" >Lys1312Lys</text>
<line x1="289" y1="362" x2="302.5" y2="354.60" stroke="#8a8a8a" stroke-width="0.6"/>
<text x="321.70" y="357.70" font-size="8.65" text-anchor="middle" fill="#111" font-weight="normal" font-family='"Liberation Sans", sans-serif' stroke="#111" stroke-width="0.18" >A92798C</text>
<line x1="343.8" y1="354.60" x2="365.5" y2="354.60" stroke="#8a8a8a" stroke-width="0.8" stroke-dasharray="5.5,2"/>
<text x="384.20" y="357.70" font-size="8.65" text-anchor="middle" fill="#111" font-weight="normal" font-family='"Liberation Sans", sans-serif' stroke="#111" stroke-width="0.18" >A4035C</text>
<line x1="402.5" y1="354.60" x2="425" y2="354.60" stroke="#8a8a8a" stroke-width="0.8" stroke-dasharray="5.5,2"/>
<text x="450.00" y="357.70" font-size="8.8" text-anchor="middle" fill="#111" font-weight="normal" font-family='"Liberation Sans", sans-serif' stroke="#111" stroke-width="0.18" >Ser1269Ser</text>
<line x1="289" y1="362" x2="302.5" y2="365.90" stroke="#8a8a8a" stroke-width="0.6"/>
<text x="321.70" y="369.00" font-size="8.65" text-anchor="middle" fill="#4f9150" font-weight="normal" font-family='"Liberation Sans", sans-serif' stroke="#4f9150" stroke-width="0.18" >C92714G</text>
<line x1="343.8" y1="365.90" x2="365.5" y2="365.90" stroke="#8a8a8a" stroke-width="0.8" stroke-dasharray="5.5,2"/>
<text x="384.20" y="369.00" font-size="8.65" text-anchor="middle" fill="#4f9150" font-weight="normal" font-family='"Liberation Sans", sans-serif' stroke="#4f9150" stroke-width="0.18" >C3951G</text>
<line x1="402.5" y1="365.90" x2="425" y2="365.90" stroke="#8a8a8a" stroke-width="0.8" stroke-dasharray="5.5,2"/>
<rect x="424.4" y="359.7" width="50.4" height="13.5" fill="#c4c4c4" stroke="#888" stroke-width="0.8"/>
<text x="449.60" y="369.00" font-size="8.8" text-anchor="middle" fill="#4f9150" font-weight="normal" font-family='"Liberation Sans", sans-serif' stroke="#4f9150" stroke-width="0.18" textLength="45" lengthAdjust="spacingAndGlyphs">Asp1241Glu</text>
<line x1="289" y1="363" x2="302.5" y2="377.70" stroke="#8a8a8a" stroke-width="0.6"/>
<text x="321.70" y="380.80" font-size="8.65" text-anchor="middle" fill="#111" font-weight="normal" font-family='"Liberation Sans", sans-serif' stroke="#111" stroke-width="0.18" >C92555T</text>
<line x1="343.8" y1="377.70" x2="365.5" y2="377.70" stroke="#8a8a8a" stroke-width="0.8" stroke-dasharray="5.5,2"/>
<text x="384.20" y="380.80" font-size="8.65" text-anchor="middle" fill="#111" font-weight="normal" font-family='"Liberation Sans", sans-serif' stroke="#111" stroke-width="0.18" >C3792T</text>
<line x1="402.5" y1="377.70" x2="425" y2="377.70" stroke="#8a8a8a" stroke-width="0.8" stroke-dasharray="5.5,2"/>
<text x="450.00" y="380.80" font-size="8.8" text-anchor="middle" fill="#111" font-weight="normal" font-family='"Liberation Sans", sans-serif' stroke="#111" stroke-width="0.18" >His1188His</text>
<line x1="289" y1="364" x2="302.5" y2="389.50" stroke="#8a8a8a" stroke-width="0.6"/>
<text x="321.70" y="392.60" font-size="8.65" text-anchor="middle" fill="#4f9150" font-weight="normal" font-family='"Liberation Sans", sans-serif' stroke="#4f9150" stroke-width="0.18" >A91317G</text>
<line x1="343.8" y1="389.50" x2="365.5" y2="389.50" stroke="#8a8a8a" stroke-width="0.8" stroke-dasharray="5.5,2"/>
<text x="384.20" y="392.60" font-size="8.65" text-anchor="middle" fill="#4f9150" font-weight="normal" font-family='"Liberation Sans", sans-serif' stroke="#4f9150" stroke-width="0.18" >A2554G</text>
<line x1="402.5" y1="389.50" x2="425" y2="389.50" stroke="#8a8a8a" stroke-width="0.8" stroke-dasharray="5.5,2"/>
<text x="450.00" y="392.60" font-size="8.8" text-anchor="middle" fill="#4f9150" font-weight="normal" font-family='"Liberation Sans", sans-serif' stroke="#4f9150" stroke-width="0.18" >Arg776Gly</text>
<line x1="289" y1="365" x2="302.5" y2="401.10" stroke="#8a8a8a" stroke-width="0.6"/>
<text x="321.70" y="404.20" font-size="8.65" text-anchor="middle" fill="#111" font-weight="normal" font-family='"Liberation Sans", sans-serif' stroke="#111" stroke-width="0.18" >A90948G</text>
<line x1="289" y1="414.3" x2="302.5" y2="414.30" stroke="#8a8a8a" stroke-width="0.6"/>
<text x="321.70" y="417.40" font-size="8.65" text-anchor="middle" fill="#111" font-weight="normal" font-family='"Liberation Sans", sans-serif' stroke="#111" stroke-width="0.18" >G75215A</text>
<line x1="289" y1="456.5" x2="302.5" y2="448.90" stroke="#8a8a8a" stroke-width="0.6"/>
<text x="321.70" y="452.00" font-size="8.65" text-anchor="middle" fill="#4f9150" font-weight="normal" font-family='"Liberation Sans", sans-serif' stroke="#4f9150" stroke-width="0.18" >G61620A</text>
<line x1="343.8" y1="448.90" x2="365.5" y2="448.90" stroke="#8a8a8a" stroke-width="0.8" stroke-dasharray="5.5,2"/>
<text x="384.20" y="452.00" font-size="8.65" text-anchor="middle" fill="#4f9150" font-weight="normal" font-family='"Liberation Sans", sans-serif' stroke="#4f9150" stroke-width="0.18" >G1679A</text>
<line x1="402.5" y1="448.90" x2="425" y2="448.90" stroke="#8a8a8a" stroke-width="0.8" stroke-dasharray="5.5,2"/>
<text x="450.00" y="452.00" font-size="8.8" text-anchor="middle" fill="#4f9150" font-weight="normal" font-family='"Liberation Sans", sans-serif' stroke="#4f9150" stroke-width="0.18" >Arg484His</text>
<line x1="289" y1="456.5" x2="302.5" y2="461.20" stroke="#8a8a8a" stroke-width="0.6"/>
<text x="321.70" y="464.30" font-size="8.65" text-anchor="middle" fill="#111" font-weight="normal" font-family='"Liberation Sans", sans-serif' stroke="#111" stroke-width="0.18" >T61534C</text>
<line x1="289" y1="474" x2="302.5" y2="472.70" stroke="#8a8a8a" stroke-width="0.6"/>
<text x="321.70" y="475.80" font-size="8.65" text-anchor="middle" fill="#111" font-weight="normal" font-family='"Liberation Sans", sans-serif' stroke="#111" stroke-width="0.18" >G56113A</text>
<line x1="343.8" y1="472.70" x2="365.5" y2="472.70" stroke="#8a8a8a" stroke-width="0.8" stroke-dasharray="5.5,2"/>
<text x="384.20" y="475.80" font-size="8.65" text-anchor="middle" fill="#111" font-weight="normal" font-family='"Liberation Sans", sans-serif' stroke="#111" stroke-width="0.18" >G1257A</text>
<line x1="402.5" y1="472.70" x2="425" y2="472.70" stroke="#8a8a8a" stroke-width="0.8" stroke-dasharray="5.5,2"/>
<text x="450.00" y="475.80" font-size="8.8" text-anchor="middle" fill="#111" font-weight="normal" font-family='"Liberation Sans", sans-serif' stroke="#111" stroke-width="0.18" >Ala343Ala</text>
<line x1="289" y1="474" x2="302.5" y2="484.90" stroke="#8a8a8a" stroke-width="0.6"/>
<text x="321.70" y="488.00" font-size="8.65" text-anchor="middle" fill="#111" font-weight="normal" font-family='"Liberation Sans", sans-serif' stroke="#111" stroke-width="0.18" >G56010A</text>
<line x1="289" y1="474" x2="302.5" y2="496.10" stroke="#8a8a8a" stroke-width="0.6"/>
<text x="321.70" y="499.20" font-size="8.65" text-anchor="middle" fill="#111" font-weight="normal" font-family='"Liberation Sans", sans-serif' stroke="#111" stroke-width="0.18" >C55938A</text>
<line x1="289" y1="482.5" x2="302.5" y2="508.40" stroke="#8a8a8a" stroke-width="0.6"/>
<text x="321.70" y="511.50" font-size="8.65" text-anchor="middle" fill="#4f9150" font-weight="normal" font-family='"Liberation Sans", sans-serif' stroke="#4f9150" stroke-width="0.18" >G53206T</text>
<line x1="343.8" y1="508.40" x2="365.5" y2="508.40" stroke="#8a8a8a" stroke-width="0.8" stroke-dasharray="5.5,2"/>
<text x="384.20" y="511.50" font-size="8.65" text-anchor="middle" fill="#4f9150" font-weight="normal" font-family='"Liberation Sans", sans-serif' stroke="#4f9150" stroke-width="0.18" >G993T</text>
<line x1="402.5" y1="508.40" x2="425" y2="508.40" stroke="#8a8a8a" stroke-width="0.8" stroke-dasharray="5.5,2"/>
<text x="450.00" y="511.50" font-size="8.8" text-anchor="middle" fill="#4f9150" font-weight="normal" font-family='"Liberation Sans", sans-serif' stroke="#4f9150" stroke-width="0.18" >Trp255Cys</text>
<text x="472.00" y="512.30" font-size="11" text-anchor="start" fill="#e0303a" font-weight="normal" font-family='"Liberation Sans", sans-serif' stroke="#e0303a" stroke-width="0.18" >*</text>
<line x1="289" y1="482.5" x2="302.5" y2="519.70" stroke="#8a8a8a" stroke-width="0.6"/>
<text x="321.70" y="522.80" font-size="8.65" text-anchor="middle" fill="#111" font-weight="normal" font-family='"Liberation Sans", sans-serif' stroke="#111" stroke-width="0.18" >A53034G</text>
<line x1="289" y1="537" x2="302.5" y2="535.10" stroke="#8a8a8a" stroke-width="0.6"/>
<text x="321.70" y="538.20" font-size="8.65" text-anchor="middle" fill="#111" font-weight="normal" font-family='"Liberation Sans", sans-serif' stroke="#111" stroke-width="0.18" >C35518G</text>
<line x1="289" y1="554.6" x2="302.5" y2="547.70" stroke="#8a8a8a" stroke-width="0.6"/>
<text x="321.70" y="550.80" font-size="8.65" text-anchor="middle" fill="#111" font-weight="normal" font-family='"Liberation Sans", sans-serif' stroke="#111" stroke-width="0.18" >T29854C</text>
<line x1="289" y1="554.6" x2="302.5" y2="558.70" stroke="#8a8a8a" stroke-width="0.6"/>
<text x="321.70" y="561.80" font-size="8.65" text-anchor="middle" fill="#111" font-weight="normal" font-family='"Liberation Sans", sans-serif' stroke="#111" stroke-width="0.18" >C29567T</text>
<line x1="289" y1="567" x2="302.5" y2="577.10" stroke="#8a8a8a" stroke-width="0.6"/>
<text x="321.70" y="580.20" font-size="8.65" text-anchor="middle" fill="#111" font-weight="normal" font-family='"Liberation Sans", sans-serif' stroke="#111" stroke-width="0.18" >G25885C</text>
<line x1="289" y1="567" x2="302.5" y2="588.10" stroke="#8a8a8a" stroke-width="0.6"/>
<text x="321.70" y="591.20" font-size="8.65" text-anchor="middle" fill="#111" font-weight="normal" font-family='"Liberation Sans", sans-serif' stroke="#111" stroke-width="0.18" >G25865A</text>
<line x1="289" y1="567" x2="302.5" y2="598.60" stroke="#8a8a8a" stroke-width="0.6"/>
<text x="321.70" y="601.70" font-size="8.65" text-anchor="middle" fill="#111" font-weight="normal" font-family='"Liberation Sans", sans-serif' stroke="#111" stroke-width="0.18" >G25610A</text>
<text x="321.70" y="617.40" font-size="8.65" text-anchor="middle" fill="#111" font-weight="normal" font-family='"Liberation Sans", sans-serif' stroke="#111" stroke-width="0.18" >T−287C</text>
<line x1="289" y1="647.4" x2="300.5" y2="625.10" stroke="#8a8a8a" stroke-width="0.6"/>
<text x="304.00" y="628.20" font-size="8.8" text-anchor="start" fill="#111" font-weight="normal" font-family='"Liberation Sans", sans-serif' stroke="#111" stroke-width="0.18" textLength="46" lengthAdjust="spacingAndGlyphs">4A:−385:5A</text>
<line x1="289" y1="647.4" x2="300.5" y2="635.90" stroke="#8a8a8a" stroke-width="0.6"/>
<text x="321.70" y="639.00" font-size="8.65" text-anchor="middle" fill="#111" font-weight="normal" font-family='"Liberation Sans", sans-serif' stroke="#111" stroke-width="0.18" >G−493A</text>
<line x1="289" y1="647.4" x2="300.5" y2="646.30" stroke="#8a8a8a" stroke-width="0.6"/>
<text x="321.70" y="649.40" font-size="8.65" text-anchor="middle" fill="#111" font-weight="normal" font-family='"Liberation Sans", sans-serif' stroke="#111" stroke-width="0.18" >G−824A</text>
<line x1="289" y1="647.4" x2="300.5" y2="656.60" stroke="#8a8a8a" stroke-width="0.6"/>
<text x="321.70" y="659.70" font-size="8.65" text-anchor="middle" fill="#111" font-weight="normal" font-family='"Liberation Sans", sans-serif' stroke="#111" stroke-width="0.18" >G−825A</text>
<rect x="429.3" y="143.7" width="86.9" height="149.4" fill="#d3d3d3" stroke="#1e1e1e" stroke-width="1.3"/>
<path d="M514.1,145.4 L514.1,291.3 L431,291.3" fill="none" stroke="#e4e4e4" stroke-width="0.8"/>
<text x="471.80" y="157.60" font-size="9.6" text-anchor="middle" fill="#111" font-weight="bold" font-family='"Liberation Serif", serif' >Color Legend</text>
<rect x="434.9" y="165.8" width="9.4" height="6" fill="#a24fb0"/>
<text x="445.50" y="171.80" font-size="8.6" text-anchor="start" fill="#111" font-weight="normal" font-family='"Liberation Serif", serif' stroke="#111" stroke-width="0.18" >:</text>
<text x="449.50" y="171.90" font-size="8.65" text-anchor="start" fill="#111" font-weight="normal" font-family='"Liberation Serif", serif' stroke="#111" stroke-width="0.18" >Microsatellites</text>
<rect x="434.9" y="177.4" width="9.4" height="6" fill="#3553a5"/>
<text x="445.50" y="183.40" font-size="8.6" text-anchor="start" fill="#111" font-weight="normal" font-family='"Liberation Serif", serif' stroke="#111" stroke-width="0.18" >:</text>
<text x="449.50" y="183.50" font-size="8.65" text-anchor="start" fill="#111" font-weight="normal" font-family='"Liberation Serif", serif' stroke="#111" stroke-width="0.18" >SINEs</text>
<rect x="434.9" y="189.0" width="9.4" height="6" fill="#88ccee"/>
<text x="445.50" y="195.00" font-size="8.6" text-anchor="start" fill="#111" font-weight="normal" font-family='"Liberation Serif", serif' stroke="#111" stroke-width="0.18" >:</text>
<text x="449.50" y="195.10" font-size="8.65" text-anchor="start" fill="#111" font-weight="normal" font-family='"Liberation Serif", serif' stroke="#111" stroke-width="0.18" >Low-complexity</text>
<rect x="434.9" y="200.60000000000002" width="9.4" height="6" fill="#72b545"/>
<text x="445.50" y="206.60" font-size="8.6" text-anchor="start" fill="#111" font-weight="normal" font-family='"Liberation Serif", serif' stroke="#111" stroke-width="0.18" >:</text>
<text x="449.50" y="206.70" font-size="8.65" text-anchor="start" fill="#111" font-weight="normal" font-family='"Liberation Serif", serif' stroke="#111" stroke-width="0.18" >LTR</text>
<rect x="434.9" y="212.20000000000002" width="9.4" height="6" fill="#f2ec3a"/>
<text x="445.50" y="218.20" font-size="8.6" text-anchor="start" fill="#111" font-weight="normal" font-family='"Liberation Serif", serif' stroke="#111" stroke-width="0.18" >:</text>
<text x="449.50" y="218.30" font-size="8.65" text-anchor="start" fill="#111" font-weight="normal" font-family='"Liberation Serif", serif' stroke="#111" stroke-width="0.18" >LINEs</text>
<rect x="434.9" y="223.8" width="9.4" height="6" fill="#f8b12a"/>
<text x="445.50" y="229.80" font-size="8.6" text-anchor="start" fill="#111" font-weight="normal" font-family='"Liberation Serif", serif' stroke="#111" stroke-width="0.18" >:</text>
<text x="449.50" y="229.90" font-size="8.65" text-anchor="start" fill="#111" font-weight="normal" font-family='"Liberation Serif", serif' stroke="#111" stroke-width="0.18" >DNA repeats</text>
<rect x="434.9" y="235.4" width="9.4" height="6" fill="#d8202a"/>
<text x="445.50" y="241.40" font-size="8.6" text-anchor="start" fill="#111" font-weight="normal" font-family='"Liberation Serif", serif' stroke="#111" stroke-width="0.18" >:</text>
<text x="449.50" y="241.50" font-size="8.65" text-anchor="start" fill="#111" font-weight="normal" font-family='"Liberation Serif", serif' stroke="#111" stroke-width="0.18" >Exons</text>
<rect x="434.9" y="247.0" width="9.4" height="6" fill="#ffffff"/>
<text x="445.50" y="253.00" font-size="8.6" text-anchor="start" fill="#111" font-weight="normal" font-family='"Liberation Serif", serif' stroke="#111" stroke-width="0.18" >:</text>
<text x="449.50" y="253.10" font-size="8.65" text-anchor="start" fill="#111" font-weight="normal" font-family='"Liberation Serif", serif' stroke="#111" stroke-width="0.18" >Promoter</text>
<rect x="434.9" y="258.6" width="9.4" height="6" fill="#a8a8a8"/>
<text x="445.50" y="264.60" font-size="8.6" text-anchor="start" fill="#111" font-weight="normal" font-family='"Liberation Serif", serif' stroke="#111" stroke-width="0.18" >:</text>
<text x="449.50" y="264.70" font-size="8.65" text-anchor="start" fill="#111" font-weight="normal" font-family='"Liberation Serif", serif' stroke="#111" stroke-width="0.18" >3′-Genomic DNA</text>
<line x1="434" y1="273.2" x2="444" y2="273.2" stroke="#111" stroke-width="1"/>
<text x="445.50" y="276.20" font-size="8.6" text-anchor="start" fill="#111" font-weight="normal" font-family='"Liberation Serif", serif' stroke="#111" stroke-width="0.18" >:</text>
<text x="449.50" y="276.30" font-size="8.65" text-anchor="start" fill="#111" font-weight="normal" font-family='"Liberation Serif", serif' stroke="#111" stroke-width="0.18" >Intron</text>
<rect x="434.9" y="281.8" width="9.4" height="6" fill="#000000"/>
<text x="445.50" y="287.80" font-size="8.6" text-anchor="start" fill="#111" font-weight="normal" font-family='"Liberation Serif", serif' stroke="#111" stroke-width="0.18" >:</text>
<text x="449.50" y="287.90" font-size="8.65" text-anchor="start" fill="#111" font-weight="normal" font-family='"Liberation Serif", serif' stroke="#111" stroke-width="0.18" >Amplicons</text>
</svg></body></html>
